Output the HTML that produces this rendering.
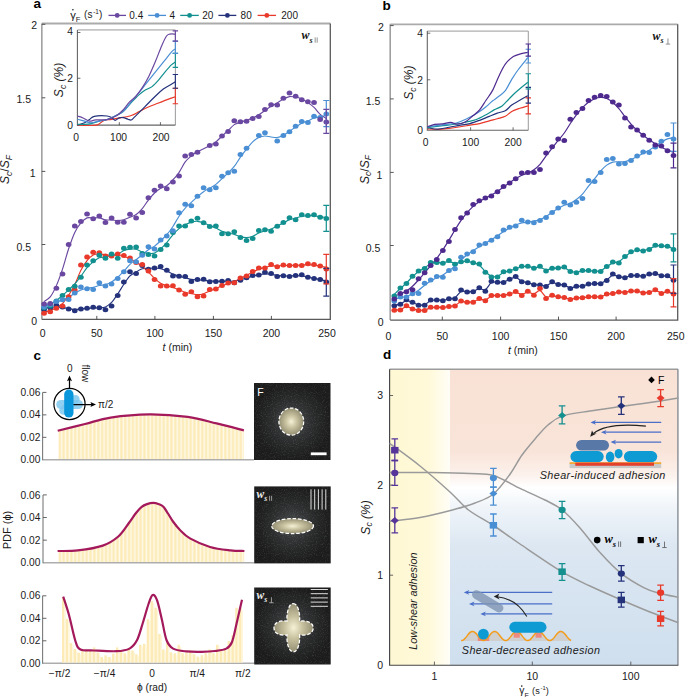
<!DOCTYPE html>
<html><head><meta charset="utf-8"><style>
html,body{margin:0;padding:0;background:#fff;}
#root{position:relative;width:685px;height:697px;overflow:hidden;background:#fff;}
svg{position:absolute;left:0;top:0;}
</style></head><body><div id="root">
<svg width="685" height="697" viewBox="0 0 685 697" font-family="Liberation Sans, sans-serif">
<defs><pattern id="stripes" patternUnits="userSpaceOnUse" width="3.85" height="10" x="58.4"><rect width="3.85" height="10" fill="#fff9e8"/><rect x="0.3" width="2.2" height="10" fill="#fcebb6"/></pattern><clipPath id="clip1"><path d="M57.7 430.7C62.25 429.58 76.18 426.18 85 424C93.82 421.82 99.9 419.2 110.6 417.6C121.3 416 136.35 414.52 149.2 414.4C162.05 414.28 176.47 415.4 187.7 416.9C198.93 418.4 207.23 421.15 216.6 423.4C225.97 425.65 239.35 429.23 243.9 430.4L243.9 459.1H57.7Z"/></clipPath><clipPath id="clip2"><path d="M57.6 551C60.98 550.9 70.37 551.3 77.9 550.4C85.43 549.5 96.07 547.92 102.8 545.6C109.53 543.28 113.95 540.27 118.3 536.5C122.65 532.73 125.95 526.92 128.9 523C131.85 519.08 133.87 515.7 136 513C138.13 510.3 139.87 508.28 141.7 506.8C143.53 505.32 145.12 504.75 147 504.1C148.88 503.45 151 502.88 153 502.9C155 502.92 157.27 503.55 159 504.2C160.73 504.85 161.9 505.25 163.4 506.8C164.9 508.35 166.4 511.05 168 513.5C169.6 515.95 171 518.75 173 521.5C175 524.25 177.17 527.18 180 530C182.83 532.82 185 535.57 190 538.4C195 541.23 203.28 545 210 547C216.72 549 224.57 549.73 230.3 550.4C236.03 551.07 242.05 550.9 244.4 551L244.4 562.1H57.6Z"/></clipPath><radialGradient id="halo"><stop offset="0" stop-color="#4c4f50"/><stop offset="0.35" stop-color="#343637"/><stop offset="0.7" stop-color="#252626"/><stop offset="1" stop-color="#1c1c1c"/></radialGradient><radialGradient id="blob"><stop offset="0" stop-color="#f6f1d6"/><stop offset="0.45" stop-color="#c8c2a0"/><stop offset="1" stop-color="#958f74"/></radialGradient><filter id="noise" x="0" y="0" width="100%" height="100%"><feTurbulence type="fractalNoise" baseFrequency="0.9" numOctaves="2" seed="3"/><feColorMatrix values="0 0 0 0 1  0 0 0 0 1  0 0 0 0 1  0 0 0 0.9 -0.45"/><feComposite in2="SourceGraphic" operator="in"/></filter><linearGradient id="yel" x1="0" x2="1" y1="0" y2="0"><stop offset="0" stop-color="#fef8d4"/><stop offset="0.65" stop-color="#fff9d9"/><stop offset="1" stop-color="#fffef7"/></linearGradient><linearGradient id="sb" x1="0" x2="0" y1="0" y2="1"><stop offset="0" stop-color="#f9e2d5"/><stop offset="0.28" stop-color="#f9e4d9"/><stop offset="0.36" stop-color="#fcf2ed"/><stop offset="0.4" stop-color="#ffffff"/><stop offset="0.47" stop-color="#eff4f9"/><stop offset="0.6" stop-color="#dce7f2"/><stop offset="1" stop-color="#cfdfee"/></linearGradient></defs>
<path d="M41.85 23.5H330.3" fill="none" stroke="#ababab" stroke-width="1.8"/>
<path d="M41.85 23.5V319.4" fill="none" stroke="#9a9a9a" stroke-width="1.5"/>
<path d="M330.3 23.5V319.4H41.85" fill="none" stroke="#5a5a5a" stroke-width="1.3"/>
<path d="M41.85 24.3h3.5" stroke="#444" stroke-width="0.9"/>
<path d="M41.85 97.8h3.5" stroke="#444" stroke-width="0.9"/>
<path d="M41.85 171.4h3.5" stroke="#444" stroke-width="0.9"/>
<path d="M41.85 244.5h3.5" stroke="#444" stroke-width="0.9"/>
<path d="M96.8 319.4v-3.5" stroke="#444" stroke-width="0.9"/>
<path d="M154.9 319.4v-3.5" stroke="#444" stroke-width="0.9"/>
<path d="M213.4 319.4v-3.5" stroke="#444" stroke-width="0.9"/>
<path d="M271.4 319.4v-3.5" stroke="#444" stroke-width="0.9"/>
<path d="M44.1 308.37C45.12 308.22 48.19 307.73 50.23 307.48C52.28 307.23 54.33 306.88 56.37 306.88C58.42 306.88 60.46 307.23 62.51 307.5C64.55 307.77 66.59 308.22 68.64 308.53C70.69 308.84 72.73 309.31 74.78 309.38C76.82 309.45 78.86 309.14 80.91 308.98C82.95 308.82 85 308.56 87.05 308.4C89.09 308.24 91.14 308.07 93.18 307.99C95.23 307.91 97.27 308.1 99.31 307.92C101.36 307.74 103.4 307.84 105.45 306.92C107.49 306 109.54 304.56 111.59 302.4C113.63 300.24 115.67 296.98 117.72 293.95C119.77 290.92 121.81 287.23 123.85 284.22C125.9 281.21 127.95 277.95 129.99 275.91C132.04 273.87 134.08 273.19 136.12 272C138.17 270.81 140.21 269.36 142.26 268.77C144.31 268.18 146.35 268.58 148.4 268.45C150.44 268.31 152.49 267.9 154.53 267.96C156.57 268.02 158.62 268.3 160.66 268.81C162.71 269.32 164.75 270.16 166.8 271.03C168.84 271.9 170.89 273.16 172.94 274.02C174.98 274.88 177.03 275.59 179.07 276.21C181.11 276.83 183.16 277.23 185.2 277.76C187.25 278.29 189.3 279.05 191.34 279.4C193.38 279.75 195.43 279.69 197.47 279.84C199.52 279.99 201.56 280.11 203.61 280.3C205.65 280.49 207.7 280.81 209.74 280.96C211.79 281.11 213.83 281.12 215.88 281.18C217.93 281.24 219.97 281.33 222.01 281.33C224.06 281.32 226.1 281.18 228.15 281.15C230.19 281.12 232.24 281.35 234.28 281.12C236.33 280.89 238.38 280.29 240.42 279.77C242.46 279.25 244.51 278.65 246.55 278.02C248.6 277.39 250.64 276.54 252.69 275.99C254.74 275.44 256.78 275.07 258.82 274.71C260.87 274.35 262.91 273.92 264.96 273.84C267 273.77 269.05 274 271.1 274.26C273.14 274.51 275.19 275.11 277.23 275.37C279.28 275.63 281.32 275.7 283.37 275.81C285.41 275.92 287.45 276.01 289.5 276C291.55 275.99 293.59 275.74 295.63 275.73C297.68 275.72 299.73 275.73 301.77 275.94C303.82 276.15 305.86 276.61 307.91 277.02C309.95 277.43 312 277.98 314.04 278.41C316.09 278.84 318.13 279.21 320.18 279.62C322.22 280.03 325.29 280.65 326.31 280.86" fill="none" stroke="#24327c" stroke-width="1.15"/>
<path d="M44.1 312.07C45.12 311.83 48.19 311.34 50.23 310.63C52.28 309.93 54.33 309.01 56.37 307.83C58.42 306.65 60.46 305.64 62.51 303.53C64.55 301.42 66.59 298.34 68.64 295.19C70.69 292.04 72.73 288.79 74.78 284.64C76.82 280.49 78.86 274.32 80.91 270.31C82.95 266.3 85 263.12 87.05 260.56C89.09 258 91.14 256.04 93.18 254.95C95.23 253.86 97.27 254.08 99.31 254.04C101.36 254 103.4 254.53 105.45 254.72C107.49 254.91 109.54 255.08 111.59 255.17C113.63 255.26 115.67 255.06 117.72 255.27C119.77 255.48 121.81 255.88 123.85 256.45C125.9 257.01 127.95 257.71 129.99 258.66C132.04 259.61 134.08 260.91 136.12 262.17C138.17 263.43 140.21 264.59 142.26 266.24C144.31 267.89 146.35 270.06 148.4 272.07C150.44 274.08 152.49 276.45 154.53 278.31C156.57 280.17 158.62 282.01 160.66 283.25C162.71 284.49 164.75 285.05 166.8 285.76C168.84 286.48 170.89 286.87 172.94 287.54C174.98 288.21 177.03 288.99 179.07 289.79C181.11 290.59 183.16 291.7 185.2 292.32C187.25 292.94 189.3 293.15 191.34 293.53C193.38 293.92 195.43 294.59 197.47 294.63C199.52 294.67 201.56 294.35 203.61 293.75C205.65 293.15 207.7 291.88 209.74 291.01C211.79 290.13 213.83 289.37 215.88 288.5C217.93 287.63 219.97 286.61 222.01 285.77C224.06 284.93 226.1 284.22 228.15 283.49C230.19 282.76 232.24 282.25 234.28 281.4C236.33 280.55 238.38 279.38 240.42 278.38C242.46 277.38 244.51 276.43 246.55 275.37C248.6 274.31 250.64 273.04 252.69 272C254.74 270.96 256.78 269.89 258.82 269.14C260.87 268.39 262.91 268.03 264.96 267.51C267 266.99 269.05 266.28 271.1 266.02C273.14 265.76 275.19 266.04 277.23 265.94C279.28 265.84 281.32 265.51 283.37 265.44C285.41 265.37 287.45 265.54 289.5 265.52C291.55 265.5 293.59 265.39 295.63 265.32C297.68 265.25 299.73 265.21 301.77 265.1C303.82 264.99 305.86 264.66 307.91 264.67C309.95 264.68 312 264.93 314.04 265.15C316.09 265.37 318.13 265.62 320.18 266C322.22 266.38 325.29 267.17 326.31 267.4" fill="none" stroke="#e8392a" stroke-width="1.15"/>
<path d="M44.1 306.23C45.12 305.87 48.19 305.03 50.23 304.06C52.28 303.08 54.33 301.82 56.37 300.39C58.42 298.96 60.46 297.24 62.51 295.5C64.55 293.76 66.59 291.87 68.64 289.94C70.69 288 72.73 286.19 74.78 283.89C76.82 281.59 78.86 278.84 80.91 276.15C82.95 273.46 85 270.11 87.05 267.73C89.09 265.35 91.14 263.53 93.18 261.87C95.23 260.21 97.27 258.58 99.31 257.78C101.36 256.98 103.4 257.48 105.45 257.06C107.49 256.64 109.54 255.72 111.59 255.27C113.63 254.82 115.67 255.13 117.72 254.34C119.77 253.55 121.81 251.41 123.85 250.54C125.9 249.68 127.95 249.37 129.99 249.15C132.04 248.93 134.08 248.75 136.12 249.22C138.17 249.69 140.21 251.3 142.26 251.98C144.31 252.66 146.35 253.14 148.4 253.31C150.44 253.48 152.49 253.77 154.53 253C156.57 252.23 158.62 250.42 160.66 248.69C162.71 246.96 164.75 244.92 166.8 242.6C168.84 240.28 170.89 237.08 172.94 234.76C174.98 232.44 177.03 230.32 179.07 228.66C181.11 227.01 183.16 225.92 185.2 224.83C187.25 223.74 189.3 222.7 191.34 222.11C193.38 221.53 195.43 221.21 197.47 221.32C199.52 221.43 201.56 222.07 203.61 222.77C205.65 223.48 207.7 224.67 209.74 225.55C211.79 226.44 213.83 227.13 215.88 228.08C217.93 229.03 219.97 230.47 222.01 231.28C224.06 232.09 226.1 232.44 228.15 232.95C230.19 233.46 232.24 233.74 234.28 234.35C236.33 234.96 238.38 236.08 240.42 236.62C242.46 237.16 244.51 237.64 246.55 237.58C248.6 237.52 250.64 237.04 252.69 236.28C254.74 235.52 256.78 233.94 258.82 233.02C260.87 232.1 262.91 231.41 264.96 230.74C267 230.07 269.05 229.8 271.1 229.01C273.14 228.22 275.19 227 277.23 225.98C279.28 224.96 281.32 223.93 283.37 222.87C285.41 221.82 287.45 220.43 289.5 219.65C291.55 218.87 293.59 218.79 295.63 218.21C297.68 217.63 299.73 216.59 301.77 216.19C303.82 215.79 305.86 215.86 307.91 215.79C309.95 215.72 312 215.59 314.04 215.76C316.09 215.93 318.13 216.48 320.18 216.79C322.22 217.1 325.29 217.48 326.31 217.61" fill="none" stroke="#12908f" stroke-width="1.15"/>
<path d="M44.1 305.6C45.12 305.33 48.19 304.53 50.23 303.96C52.28 303.38 54.33 302.85 56.37 302.17C58.42 301.49 60.46 300.71 62.51 299.88C64.55 299.05 66.59 298.27 68.64 297.18C70.69 296.09 72.73 294.53 74.78 293.34C76.82 292.15 78.86 290.87 80.91 290.04C82.95 289.21 85 288.81 87.05 288.37C89.09 287.93 91.14 287.86 93.18 287.37C95.23 286.88 97.27 285.92 99.31 285.45C101.36 284.98 103.4 285.14 105.45 284.56C107.49 283.98 109.54 283.16 111.59 281.94C113.63 280.72 115.67 279.05 117.72 277.24C119.77 275.43 121.81 273.25 123.85 271.1C125.9 268.95 127.95 266.24 129.99 264.34C132.04 262.44 134.08 261.3 136.12 259.7C138.17 258.1 140.21 256.4 142.26 254.74C144.31 253.07 146.35 251.15 148.4 249.71C150.44 248.27 152.49 247.59 154.53 246.1C156.57 244.61 158.62 242.66 160.66 240.76C162.71 238.86 164.75 237.1 166.8 234.72C168.84 232.33 170.89 229.53 172.94 226.45C174.98 223.37 177.03 219.31 179.07 216.25C181.11 213.19 183.16 210.39 185.2 208.09C187.25 205.79 189.3 204.35 191.34 202.43C193.38 200.51 195.43 198.38 197.47 196.58C199.52 194.78 201.56 193.04 203.61 191.65C205.65 190.26 207.7 189.45 209.74 188.24C211.79 187.02 213.83 185.95 215.88 184.36C217.93 182.77 219.97 180.62 222.01 178.7C224.06 176.78 226.1 174.9 228.15 172.86C230.19 170.82 232.24 169.07 234.28 166.45C236.33 163.83 238.38 160.03 240.42 157.14C242.46 154.25 244.51 151.66 246.55 149.12C248.6 146.58 250.64 143.82 252.69 141.89C254.74 139.97 256.78 138.56 258.82 137.57C260.87 136.58 262.91 136.07 264.96 135.98C267 135.89 269.05 136.78 271.1 137.04C273.14 137.3 275.19 137.86 277.23 137.55C279.28 137.24 281.32 136.23 283.37 135.19C285.41 134.15 287.45 132.7 289.5 131.33C291.55 129.96 293.59 128.33 295.63 126.97C297.68 125.61 299.73 124.16 301.77 123.15C303.82 122.14 305.86 121.75 307.91 120.9C309.95 120.05 312 118.69 314.04 118.04C316.09 117.39 318.13 117.44 320.18 116.98C322.22 116.52 325.29 115.56 326.31 115.27" fill="none" stroke="#4a8fd4" stroke-width="1.15"/>
<path d="M44.1 301.57C45.12 300.8 48.19 299.6 50.23 296.94C52.28 294.29 54.33 290.27 56.37 285.62C58.42 280.97 60.46 275.2 62.51 269.06C64.55 262.92 66.59 254.86 68.64 248.75C70.69 242.64 72.73 236.69 74.78 232.39C76.82 228.09 78.86 225.35 80.91 222.93C82.95 220.51 85 218.7 87.05 217.87C89.09 217.04 91.14 217.93 93.18 217.93C95.23 217.93 97.27 217.55 99.31 217.87C101.36 218.19 103.4 219.53 105.45 219.87C107.49 220.21 109.54 219.81 111.59 219.93C113.63 220.05 115.67 220.64 117.72 220.61C119.77 220.59 121.81 220.35 123.85 219.78C125.9 219.21 127.95 218.09 129.99 217.21C132.04 216.33 134.08 215.94 136.12 214.5C138.17 213.06 140.21 210.97 142.26 208.56C144.31 206.15 146.35 202.64 148.4 200.05C150.44 197.46 152.49 194.97 154.53 193C156.57 191.03 158.62 189.41 160.66 188.2C162.71 186.99 164.75 187.12 166.8 185.75C168.84 184.38 170.89 182.2 172.94 179.96C174.98 177.72 177.03 175.33 179.07 172.32C181.11 169.31 183.16 164.65 185.2 161.9C187.25 159.16 189.3 157.56 191.34 155.85C193.38 154.14 195.43 152.79 197.47 151.62C199.52 150.44 201.56 149.81 203.61 148.8C205.65 147.79 207.7 146.7 209.74 145.55C211.79 144.4 213.83 143.47 215.88 141.89C217.93 140.31 219.97 137.97 222.01 136.07C224.06 134.16 226.1 132.37 228.15 130.46C230.19 128.56 232.24 126.03 234.28 124.64C236.33 123.25 238.38 122.83 240.42 122.1C242.46 121.37 244.51 120.95 246.55 120.27C248.6 119.59 250.64 118.96 252.69 118.04C254.74 117.12 256.78 116.04 258.82 114.77C260.87 113.5 262.91 111.83 264.96 110.42C267 109.01 269.05 107.57 271.1 106.31C273.14 105.05 275.19 104.09 277.23 102.87C279.28 101.65 281.32 100.06 283.37 99.01C285.41 97.96 287.45 96.89 289.5 96.56C291.55 96.23 293.59 96.65 295.63 97.06C297.68 97.47 299.73 98.11 301.77 99.05C303.82 99.99 305.86 101.32 307.91 102.71C309.95 104.1 312 105.47 314.04 107.41C316.09 109.35 318.13 112.48 320.18 114.34C322.22 116.2 325.29 117.87 326.31 118.57" fill="none" stroke="#6a47a0" stroke-width="1.15"/>
<g fill="#24327c"><ellipse cx="44.1" cy="309.5" rx="2.85" ry="2.5"/><ellipse cx="50.23" cy="307.7" rx="2.85" ry="2.5"/><ellipse cx="56.37" cy="305.2" rx="2.85" ry="2.5"/><ellipse cx="62.51" cy="307.1" rx="2.85" ry="2.5"/><ellipse cx="68.64" cy="308.9" rx="2.85" ry="2.5"/><ellipse cx="74.78" cy="310.7" rx="2.85" ry="2.5"/><ellipse cx="80.91" cy="308.9" rx="2.85" ry="2.5"/><ellipse cx="87.05" cy="308.3" rx="2.85" ry="2.5"/><ellipse cx="93.18" cy="307.3" rx="2.85" ry="2.5"/><ellipse cx="99.31" cy="307.7" rx="2.85" ry="2.5"/><ellipse cx="105.45" cy="309.8" rx="2.85" ry="2.5"/><ellipse cx="111.59" cy="305.9" rx="2.85" ry="2.5"/><ellipse cx="117.72" cy="295.5" rx="2.85" ry="2.5"/><ellipse cx="123.85" cy="282.1" rx="2.85" ry="2.5"/><ellipse cx="129.99" cy="271.7" rx="2.85" ry="2.5"/><ellipse cx="136.12" cy="273.5" rx="2.85" ry="2.5"/><ellipse cx="142.26" cy="265.6" rx="2.85" ry="2.5"/><ellipse cx="148.4" cy="269.3" rx="2.85" ry="2.5"/><ellipse cx="154.53" cy="268" rx="2.85" ry="2.5"/><ellipse cx="160.66" cy="266.6" rx="2.85" ry="2.5"/><ellipse cx="166.8" cy="270.2" rx="2.85" ry="2.5"/><ellipse cx="172.94" cy="276" rx="2.85" ry="2.5"/><ellipse cx="179.07" cy="276.3" rx="2.85" ry="2.5"/><ellipse cx="185.2" cy="276.6" rx="2.85" ry="2.5"/><ellipse cx="191.34" cy="281.5" rx="2.85" ry="2.5"/><ellipse cx="197.47" cy="279.6" rx="2.85" ry="2.5"/><ellipse cx="203.61" cy="279.3" rx="2.85" ry="2.5"/><ellipse cx="209.74" cy="281.8" rx="2.85" ry="2.5"/><ellipse cx="215.88" cy="281.5" rx="2.85" ry="2.5"/><ellipse cx="222.01" cy="281.2" rx="2.85" ry="2.5"/><ellipse cx="228.15" cy="280.5" rx="2.85" ry="2.5"/><ellipse cx="234.28" cy="282.7" rx="2.85" ry="2.5"/><ellipse cx="240.42" cy="280.2" rx="2.85" ry="2.5"/><ellipse cx="246.55" cy="277.8" rx="2.85" ry="2.5"/><ellipse cx="252.69" cy="275.4" rx="2.85" ry="2.5"/><ellipse cx="258.82" cy="275.1" rx="2.85" ry="2.5"/><ellipse cx="264.96" cy="272.3" rx="2.85" ry="2.5"/><ellipse cx="271.1" cy="273.5" rx="2.85" ry="2.5"/><ellipse cx="277.23" cy="276.6" rx="2.85" ry="2.5"/><ellipse cx="283.37" cy="275.7" rx="2.85" ry="2.5"/><ellipse cx="289.5" cy="276.6" rx="2.85" ry="2.5"/><ellipse cx="295.63" cy="275.4" rx="2.85" ry="2.5"/><ellipse cx="301.77" cy="274.8" rx="2.85" ry="2.5"/><ellipse cx="307.91" cy="277.2" rx="2.85" ry="2.5"/><ellipse cx="314.04" cy="278.4" rx="2.85" ry="2.5"/><ellipse cx="320.18" cy="279.6" rx="2.85" ry="2.5"/><ellipse cx="326.31" cy="282.1" rx="2.85" ry="2.5"/></g>
<g fill="#e8392a"><ellipse cx="44.1" cy="313.2" rx="2.85" ry="2.5"/><ellipse cx="50.23" cy="311.7" rx="2.85" ry="2.5"/><ellipse cx="56.37" cy="308.3" rx="2.85" ry="2.5"/><ellipse cx="62.51" cy="305.9" rx="2.85" ry="2.5"/><ellipse cx="68.64" cy="296.7" rx="2.85" ry="2.5"/><ellipse cx="74.78" cy="290" rx="2.85" ry="2.5"/><ellipse cx="80.91" cy="265" rx="2.85" ry="2.5"/><ellipse cx="87.05" cy="257.1" rx="2.85" ry="2.5"/><ellipse cx="93.18" cy="252.2" rx="2.85" ry="2.5"/><ellipse cx="99.31" cy="252.8" rx="2.85" ry="2.5"/><ellipse cx="105.45" cy="255.9" rx="2.85" ry="2.5"/><ellipse cx="111.59" cy="255.9" rx="2.85" ry="2.5"/><ellipse cx="117.72" cy="254" rx="2.85" ry="2.5"/><ellipse cx="123.85" cy="255.5" rx="2.85" ry="2.5"/><ellipse cx="129.99" cy="258" rx="2.85" ry="2.5"/><ellipse cx="136.12" cy="262.6" rx="2.85" ry="2.5"/><ellipse cx="142.26" cy="264.4" rx="2.85" ry="2.5"/><ellipse cx="148.4" cy="271" rx="2.85" ry="2.5"/><ellipse cx="154.53" cy="279.6" rx="2.85" ry="2.5"/><ellipse cx="160.66" cy="286.1" rx="2.85" ry="2.5"/><ellipse cx="166.8" cy="286.1" rx="2.85" ry="2.5"/><ellipse cx="172.94" cy="285.7" rx="2.85" ry="2.5"/><ellipse cx="179.07" cy="290" rx="2.85" ry="2.5"/><ellipse cx="185.2" cy="294.3" rx="2.85" ry="2.5"/><ellipse cx="191.34" cy="291.8" rx="2.85" ry="2.5"/><ellipse cx="197.47" cy="296.7" rx="2.85" ry="2.5"/><ellipse cx="203.61" cy="296.1" rx="2.85" ry="2.5"/><ellipse cx="209.74" cy="289.4" rx="2.85" ry="2.5"/><ellipse cx="215.88" cy="289.1" rx="2.85" ry="2.5"/><ellipse cx="222.01" cy="285.4" rx="2.85" ry="2.5"/><ellipse cx="228.15" cy="282.9" rx="2.85" ry="2.5"/><ellipse cx="234.28" cy="282.7" rx="2.85" ry="2.5"/><ellipse cx="240.42" cy="278" rx="2.85" ry="2.5"/><ellipse cx="246.55" cy="276" rx="2.85" ry="2.5"/><ellipse cx="252.69" cy="271.5" rx="2.85" ry="2.5"/><ellipse cx="258.82" cy="268" rx="2.85" ry="2.5"/><ellipse cx="264.96" cy="268" rx="2.85" ry="2.5"/><ellipse cx="271.1" cy="264.4" rx="2.85" ry="2.5"/><ellipse cx="277.23" cy="266.8" rx="2.85" ry="2.5"/><ellipse cx="283.37" cy="265" rx="2.85" ry="2.5"/><ellipse cx="289.5" cy="265.4" rx="2.85" ry="2.5"/><ellipse cx="295.63" cy="265.6" rx="2.85" ry="2.5"/><ellipse cx="301.77" cy="265.6" rx="2.85" ry="2.5"/><ellipse cx="307.91" cy="263.8" rx="2.85" ry="2.5"/><ellipse cx="314.04" cy="264.4" rx="2.85" ry="2.5"/><ellipse cx="320.18" cy="265.9" rx="2.85" ry="2.5"/><ellipse cx="326.31" cy="268.9" rx="2.85" ry="2.5"/></g>
<g fill="#12908f"><ellipse cx="44.1" cy="307.7" rx="2.85" ry="2.5"/><ellipse cx="50.23" cy="305.9" rx="2.85" ry="2.5"/><ellipse cx="56.37" cy="301" rx="2.85" ry="2.5"/><ellipse cx="62.51" cy="295.5" rx="2.85" ry="2.5"/><ellipse cx="68.64" cy="289.4" rx="2.85" ry="2.5"/><ellipse cx="74.78" cy="286.3" rx="2.85" ry="2.5"/><ellipse cx="80.91" cy="277.2" rx="2.85" ry="2.5"/><ellipse cx="87.05" cy="265" rx="2.85" ry="2.5"/><ellipse cx="93.18" cy="260.7" rx="2.85" ry="2.5"/><ellipse cx="99.31" cy="255.2" rx="2.85" ry="2.5"/><ellipse cx="105.45" cy="258.3" rx="2.85" ry="2.5"/><ellipse cx="111.59" cy="254" rx="2.85" ry="2.5"/><ellipse cx="117.72" cy="258.3" rx="2.85" ry="2.5"/><ellipse cx="123.85" cy="248.3" rx="2.85" ry="2.5"/><ellipse cx="129.99" cy="247.3" rx="2.85" ry="2.5"/><ellipse cx="136.12" cy="247" rx="2.85" ry="2.5"/><ellipse cx="142.26" cy="253.4" rx="2.85" ry="2.5"/><ellipse cx="148.4" cy="254.5" rx="2.85" ry="2.5"/><ellipse cx="154.53" cy="255.9" rx="2.85" ry="2.5"/><ellipse cx="160.66" cy="249.5" rx="2.85" ry="2.5"/><ellipse cx="166.8" cy="245" rx="2.85" ry="2.5"/><ellipse cx="172.94" cy="232.6" rx="2.85" ry="2.5"/><ellipse cx="179.07" cy="225.9" rx="2.85" ry="2.5"/><ellipse cx="185.2" cy="225.9" rx="2.85" ry="2.5"/><ellipse cx="191.34" cy="221" rx="2.85" ry="2.5"/><ellipse cx="197.47" cy="218.3" rx="2.85" ry="2.5"/><ellipse cx="203.61" cy="222.8" rx="2.85" ry="2.5"/><ellipse cx="209.74" cy="226.5" rx="2.85" ry="2.5"/><ellipse cx="215.88" cy="225.9" rx="2.85" ry="2.5"/><ellipse cx="222.01" cy="233.8" rx="2.85" ry="2.5"/><ellipse cx="228.15" cy="233.8" rx="2.85" ry="2.5"/><ellipse cx="234.28" cy="231.7" rx="2.85" ry="2.5"/><ellipse cx="240.42" cy="237.4" rx="2.85" ry="2.5"/><ellipse cx="246.55" cy="240.5" rx="2.85" ry="2.5"/><ellipse cx="252.69" cy="238.4" rx="2.85" ry="2.5"/><ellipse cx="258.82" cy="230.5" rx="2.85" ry="2.5"/><ellipse cx="264.96" cy="229.8" rx="2.85" ry="2.5"/><ellipse cx="271.1" cy="231.3" rx="2.85" ry="2.5"/><ellipse cx="277.23" cy="226.2" rx="2.85" ry="2.5"/><ellipse cx="283.37" cy="222.4" rx="2.85" ry="2.5"/><ellipse cx="289.5" cy="217.8" rx="2.85" ry="2.5"/><ellipse cx="295.63" cy="219.8" rx="2.85" ry="2.5"/><ellipse cx="301.77" cy="214.7" rx="2.85" ry="2.5"/><ellipse cx="307.91" cy="215.5" rx="2.85" ry="2.5"/><ellipse cx="314.04" cy="214.7" rx="2.85" ry="2.5"/><ellipse cx="320.18" cy="217.3" rx="2.85" ry="2.5"/><ellipse cx="326.31" cy="218.5" rx="2.85" ry="2.5"/></g>
<g fill="#4a8fd4"><ellipse cx="44.1" cy="307.1" rx="2.85" ry="2.5"/><ellipse cx="50.23" cy="304.6" rx="2.85" ry="2.5"/><ellipse cx="56.37" cy="301.6" rx="2.85" ry="2.5"/><ellipse cx="62.51" cy="299.8" rx="2.85" ry="2.5"/><ellipse cx="68.64" cy="299.4" rx="2.85" ry="2.5"/><ellipse cx="74.78" cy="293" rx="2.85" ry="2.5"/><ellipse cx="80.91" cy="287" rx="2.85" ry="2.5"/><ellipse cx="87.05" cy="288.8" rx="2.85" ry="2.5"/><ellipse cx="93.18" cy="289.4" rx="2.85" ry="2.5"/><ellipse cx="99.31" cy="282.7" rx="2.85" ry="2.5"/><ellipse cx="105.45" cy="286.1" rx="2.85" ry="2.5"/><ellipse cx="111.59" cy="283.9" rx="2.85" ry="2.5"/><ellipse cx="117.72" cy="278.6" rx="2.85" ry="2.5"/><ellipse cx="123.85" cy="271.7" rx="2.85" ry="2.5"/><ellipse cx="129.99" cy="260.7" rx="2.85" ry="2.5"/><ellipse cx="136.12" cy="261.7" rx="2.85" ry="2.5"/><ellipse cx="142.26" cy="255.2" rx="2.85" ry="2.5"/><ellipse cx="148.4" cy="246.7" rx="2.85" ry="2.5"/><ellipse cx="154.53" cy="249.1" rx="2.85" ry="2.5"/><ellipse cx="160.66" cy="240" rx="2.85" ry="2.5"/><ellipse cx="166.8" cy="236" rx="2.85" ry="2.5"/><ellipse cx="172.94" cy="230.7" rx="2.85" ry="2.5"/><ellipse cx="179.07" cy="212.7" rx="2.85" ry="2.5"/><ellipse cx="185.2" cy="204.3" rx="2.85" ry="2.5"/><ellipse cx="191.34" cy="205.7" rx="2.85" ry="2.5"/><ellipse cx="197.47" cy="196.2" rx="2.85" ry="2.5"/><ellipse cx="203.61" cy="187.8" rx="2.85" ry="2.5"/><ellipse cx="209.74" cy="189.7" rx="2.85" ry="2.5"/><ellipse cx="215.88" cy="187.8" rx="2.85" ry="2.5"/><ellipse cx="222.01" cy="176.2" rx="2.85" ry="2.5"/><ellipse cx="228.15" cy="172.8" rx="2.85" ry="2.5"/><ellipse cx="234.28" cy="171.3" rx="2.85" ry="2.5"/><ellipse cx="240.42" cy="154.6" rx="2.85" ry="2.5"/><ellipse cx="246.55" cy="148.3" rx="2.85" ry="2.5"/><ellipse cx="258.82" cy="135.5" rx="2.85" ry="2.5"/><ellipse cx="264.96" cy="132.7" rx="2.85" ry="2.5"/><ellipse cx="277.23" cy="141" rx="2.85" ry="2.5"/><ellipse cx="283.37" cy="135.5" rx="2.85" ry="2.5"/><ellipse cx="289.5" cy="131.8" rx="2.85" ry="2.5"/><ellipse cx="295.63" cy="126.3" rx="2.85" ry="2.5"/><ellipse cx="301.77" cy="121.5" rx="2.85" ry="2.5"/><ellipse cx="307.91" cy="122.4" rx="2.85" ry="2.5"/><ellipse cx="314.04" cy="116.3" rx="2.85" ry="2.5"/><ellipse cx="320.18" cy="117.5" rx="2.85" ry="2.5"/><ellipse cx="326.31" cy="113.9" rx="2.85" ry="2.5"/></g>
<g fill="#6a47a0"><ellipse cx="44.1" cy="303.9" rx="2.85" ry="2.5"/><ellipse cx="50.23" cy="303.6" rx="2.85" ry="2.5"/><ellipse cx="56.37" cy="288.2" rx="2.85" ry="2.5"/><ellipse cx="62.51" cy="273.9" rx="2.85" ry="2.5"/><ellipse cx="68.64" cy="244.5" rx="2.85" ry="2.5"/><ellipse cx="74.78" cy="226" rx="2.85" ry="2.5"/><ellipse cx="80.91" cy="221.5" rx="2.85" ry="2.5"/><ellipse cx="87.05" cy="214" rx="2.85" ry="2.5"/><ellipse cx="93.18" cy="218.8" rx="2.85" ry="2.5"/><ellipse cx="99.31" cy="216.1" rx="2.85" ry="2.5"/><ellipse cx="105.45" cy="222.4" rx="2.85" ry="2.5"/><ellipse cx="111.59" cy="217.9" rx="2.85" ry="2.5"/><ellipse cx="117.72" cy="222.3" rx="2.85" ry="2.5"/><ellipse cx="123.85" cy="222.2" rx="2.85" ry="2.5"/><ellipse cx="129.99" cy="214.3" rx="2.85" ry="2.5"/><ellipse cx="136.12" cy="217.9" rx="2.85" ry="2.5"/><ellipse cx="142.26" cy="212.4" rx="2.85" ry="2.5"/><ellipse cx="148.4" cy="197.8" rx="2.85" ry="2.5"/><ellipse cx="154.53" cy="190.3" rx="2.85" ry="2.5"/><ellipse cx="160.66" cy="186" rx="2.85" ry="2.5"/><ellipse cx="166.8" cy="188.8" rx="2.85" ry="2.5"/><ellipse cx="172.94" cy="182" rx="2.85" ry="2.5"/><ellipse cx="179.07" cy="176" rx="2.85" ry="2.5"/><ellipse cx="185.2" cy="156" rx="2.85" ry="2.5"/><ellipse cx="191.34" cy="154.4" rx="2.85" ry="2.5"/><ellipse cx="197.47" cy="152.2" rx="2.85" ry="2.5"/><ellipse cx="209.74" cy="145.6" rx="2.85" ry="2.5"/><ellipse cx="215.88" cy="144" rx="2.85" ry="2.5"/><ellipse cx="222.01" cy="135.9" rx="2.85" ry="2.5"/><ellipse cx="228.15" cy="131.4" rx="2.85" ry="2.5"/><ellipse cx="234.28" cy="120.7" rx="2.85" ry="2.5"/><ellipse cx="240.42" cy="121.8" rx="2.85" ry="2.5"/><ellipse cx="246.55" cy="121.3" rx="2.85" ry="2.5"/><ellipse cx="252.69" cy="118.4" rx="2.85" ry="2.5"/><ellipse cx="258.82" cy="116.4" rx="2.85" ry="2.5"/><ellipse cx="264.96" cy="109.6" rx="2.85" ry="2.5"/><ellipse cx="271.1" cy="104.8" rx="2.85" ry="2.5"/><ellipse cx="277.23" cy="105" rx="2.85" ry="2.5"/><ellipse cx="283.37" cy="98.3" rx="2.85" ry="2.5"/><ellipse cx="289.5" cy="92.9" rx="2.85" ry="2.5"/><ellipse cx="295.63" cy="96.3" rx="2.85" ry="2.5"/><ellipse cx="301.77" cy="99.8" rx="2.85" ry="2.5"/><ellipse cx="307.91" cy="101.7" rx="2.85" ry="2.5"/><ellipse cx="314.04" cy="102.4" rx="2.85" ry="2.5"/><ellipse cx="320.18" cy="119.6" rx="2.85" ry="2.5"/><ellipse cx="326.31" cy="122.1" rx="2.85" ry="2.5"/></g>
<path d="M326.3 268.3V296.1M323.3 268.3H329.3M323.3 296.1H329.3" stroke="#24327c" stroke-width="1.2" fill="none"/>
<path d="M326.3 254.4V283.9M323.3 254.4H329.3M323.3 283.9H329.3" stroke="#e8392a" stroke-width="1.2" fill="none"/>
<path d="M326.3 205.3V231.3M323.3 205.3H329.3M323.3 231.3H329.3" stroke="#12908f" stroke-width="1.2" fill="none"/>
<path d="M326.3 100.5V126.7M323.3 100.5H329.3M323.3 126.7H329.3" stroke="#4a8fd4" stroke-width="1.2" fill="none"/>
<path d="M326.3 109.3V133.3M323.3 109.3H329.3M323.3 133.3H329.3" stroke="#6a47a0" stroke-width="1.2" fill="none"/>
<path d="M390.2 24.3H677.7" fill="none" stroke="#ababab" stroke-width="1.8"/>
<path d="M390.2 24.3V320.1" fill="none" stroke="#9a9a9a" stroke-width="1.5"/>
<path d="M677.7 24.3V320.1H390.2" fill="none" stroke="#5a5a5a" stroke-width="1.3"/>
<path d="M390.2 25.6h3.5" stroke="#444" stroke-width="0.9"/>
<path d="M390.2 98.9h3.5" stroke="#444" stroke-width="0.9"/>
<path d="M390.2 172.4h3.5" stroke="#444" stroke-width="0.9"/>
<path d="M390.2 245.5h3.5" stroke="#444" stroke-width="0.9"/>
<path d="M442.3 320.1v-3.5" stroke="#444" stroke-width="0.9"/>
<path d="M500.6 320.1v-3.5" stroke="#444" stroke-width="0.9"/>
<path d="M558.5 320.1v-3.5" stroke="#444" stroke-width="0.9"/>
<path d="M616.1 320.1v-3.5" stroke="#444" stroke-width="0.9"/>
<path d="M394.3 305.5C395.31 305.23 398.35 304.72 400.37 303.9C402.39 303.08 404.42 300.86 406.44 300.6C408.46 300.34 410.49 301.63 412.51 302.35C414.53 303.07 416.56 304.54 418.58 304.93C420.6 305.31 422.63 305.35 424.65 304.64C426.67 303.93 428.7 301.42 430.72 300.65C432.74 299.88 434.77 300.06 436.79 300.01C438.81 299.96 440.84 300.52 442.86 300.36C444.88 300.2 446.91 299.48 448.93 299.04C450.95 298.6 452.98 298.98 455 297.71C457.02 296.45 459.05 292.42 461.07 291.44C463.09 290.45 465.12 291.83 467.14 291.81C469.16 291.79 471.19 291.85 473.21 291.32C475.23 290.8 477.26 288.95 479.28 288.66C481.3 288.37 483.33 290.6 485.35 289.59C487.37 288.58 489.4 283.83 491.42 282.6C493.44 281.37 495.47 282.28 497.49 282.2C499.51 282.12 501.54 282.62 503.56 282.14C505.58 281.65 507.61 280.06 509.63 279.27C511.65 278.49 513.68 277.1 515.7 277.43C517.72 277.75 519.75 280.34 521.77 281.24C523.79 282.14 525.82 282.3 527.84 282.84C529.86 283.38 531.89 284.1 533.91 284.47C535.93 284.85 537.96 284.87 539.98 285.09C542 285.31 544.03 286.18 546.05 285.79C548.07 285.39 550.1 283 552.12 282.73C554.14 282.45 556.17 283.71 558.19 284.14C560.21 284.56 562.24 284.68 564.26 285.27C566.28 285.87 568.31 287.49 570.33 287.69C572.35 287.89 574.38 286.77 576.4 286.47C578.42 286.18 580.45 286.3 582.47 285.92C584.49 285.55 586.52 284.6 588.54 284.23C590.56 283.85 592.59 283.82 594.61 283.66C596.63 283.51 598.66 283.88 600.68 283.29C602.7 282.69 604.73 281.44 606.75 280.09C608.77 278.73 610.8 275.75 612.82 275.16C614.84 274.58 616.87 276.21 618.89 276.56C620.91 276.92 622.94 277.45 624.96 277.3C626.98 277.15 629.01 275.99 631.03 275.69C633.05 275.39 635.08 275.48 637.1 275.51C639.12 275.55 641.15 276.11 643.17 275.9C645.19 275.69 647.22 274.57 649.24 274.24C651.26 273.91 653.29 273.71 655.31 273.93C657.33 274.14 659.36 275.12 661.38 275.53C663.4 275.93 665.43 275.68 667.45 276.35C669.47 277.02 672.51 279.03 673.52 279.57" fill="none" stroke="#24327c" stroke-width="1.2"/>
<path d="M394.3 310.17C395.31 310.06 398.35 310.08 400.37 309.49C402.39 308.9 404.42 306.77 406.44 306.64C408.46 306.51 410.49 308.09 412.51 308.7C414.53 309.31 416.56 310.07 418.58 310.29C420.6 310.51 422.63 310.46 424.65 310.02C426.67 309.59 428.7 308.14 430.72 307.69C432.74 307.24 434.77 307.38 436.79 307.34C438.81 307.29 440.84 307.55 442.86 307.41C444.88 307.27 446.91 306.83 448.93 306.5C450.95 306.17 452.98 306.21 455 305.41C457.02 304.61 459.05 302.26 461.07 301.7C463.09 301.14 465.12 302.03 467.14 302.04C469.16 302.05 471.19 302.2 473.21 301.75C475.23 301.3 477.26 299.64 479.28 299.33C481.3 299.01 483.33 300.39 485.35 299.85C487.37 299.31 489.4 296.82 491.42 296.07C493.44 295.33 495.47 295.54 497.49 295.4C499.51 295.26 501.54 295.48 503.56 295.22C505.58 294.97 507.61 294.35 509.63 293.88C511.65 293.4 513.68 292.29 515.7 292.38C517.72 292.46 519.75 294.42 521.77 294.4C523.79 294.38 525.82 292.31 527.84 292.22C529.86 292.14 531.89 294.14 533.91 293.87C535.93 293.61 537.96 290.17 539.98 290.66C542 291.16 544.03 295.99 546.05 296.85C548.07 297.71 550.1 295.84 552.12 295.81C554.14 295.79 556.17 296.38 558.19 296.69C560.21 296.99 562.24 297.26 564.26 297.65C566.28 298.04 568.31 298.9 570.33 299C572.35 299.1 574.38 298.44 576.4 298.23C578.42 298.01 580.45 297.93 582.47 297.71C584.49 297.49 586.52 297.07 588.54 296.91C590.56 296.75 592.59 296.8 594.61 296.76C596.63 296.72 598.66 297.07 600.68 296.68C602.7 296.28 604.73 294.95 606.75 294.39C608.77 293.83 610.8 293.67 612.82 293.31C614.84 292.95 616.87 292.41 618.89 292.23C620.91 292.04 622.94 292.35 624.96 292.17C626.98 292 629.01 291.33 631.03 291.18C633.05 291.02 635.08 291 637.1 291.25C639.12 291.5 641.15 292.53 643.17 292.68C645.19 292.82 647.22 292.5 649.24 292.14C651.26 291.77 653.29 290.41 655.31 290.5C657.33 290.59 659.36 292.44 661.38 292.68C663.4 292.91 665.43 291.74 667.45 291.91C669.47 292.08 672.51 293.4 673.52 293.7" fill="none" stroke="#e8392a" stroke-width="1.2"/>
<path d="M394.3 294.3C395.31 293.34 398.35 290.38 400.37 288.52C402.39 286.65 404.42 285.08 406.44 283.1C408.46 281.12 410.49 278.58 412.51 276.65C414.53 274.72 416.56 272.98 418.58 271.52C420.6 270.06 422.63 269.21 424.65 267.88C426.67 266.56 428.7 264.43 430.72 263.57C432.74 262.7 434.77 262.85 436.79 262.7C438.81 262.55 440.84 262.84 442.86 262.65C444.88 262.46 446.91 261.48 448.93 261.57C450.95 261.66 452.98 263.11 455 263.18C457.02 263.26 459.05 262.35 461.07 262.03C463.09 261.72 465.12 261.19 467.14 261.28C469.16 261.38 471.19 261.96 473.21 262.6C475.23 263.24 477.26 263.64 479.28 265.15C481.3 266.66 483.33 269.79 485.35 271.65C487.37 273.51 489.4 275.53 491.42 276.28C493.44 277.04 495.47 276.83 497.49 276.2C499.51 275.57 501.54 273.4 503.56 272.5C505.58 271.6 507.61 271.44 509.63 270.82C511.65 270.19 513.68 269.45 515.7 268.77C517.72 268.08 519.75 267.07 521.77 266.72C523.79 266.36 525.82 266.48 527.84 266.62C529.86 266.76 531.89 267.44 533.91 267.57C535.93 267.69 537.96 267.03 539.98 267.38C542 267.74 544.03 269.48 546.05 269.68C548.07 269.89 550.1 268.92 552.12 268.6C554.14 268.28 556.17 267.91 558.19 267.78C560.21 267.66 562.24 267.31 564.26 267.83C566.28 268.36 568.31 270.22 570.33 270.95C572.35 271.68 574.38 272.21 576.4 272.2C578.42 272.19 580.45 271.14 582.47 270.88C584.49 270.62 586.52 270.58 588.54 270.63C590.56 270.69 592.59 271.2 594.61 271.22C596.63 271.23 598.66 271.48 600.68 270.72C602.7 269.96 604.73 267.96 606.75 266.65C608.77 265.34 610.8 263.68 612.82 262.85C614.84 262.02 616.87 262.67 618.89 261.65C620.91 260.63 622.94 258.29 624.96 256.72C626.98 255.14 629.01 253.29 631.03 252.22C633.05 251.14 635.08 250.56 637.1 250.28C639.12 250.01 641.15 250.8 643.17 250.58C645.19 250.37 647.22 249.75 649.24 249C651.26 248.25 653.29 246.6 655.31 246.07C657.33 245.53 659.36 245.68 661.38 245.78C663.4 245.88 665.43 246.17 667.45 246.67C669.47 247.16 672.51 248.41 673.52 248.76" fill="none" stroke="#12908f" stroke-width="1.2"/>
<path d="M394.3 299.05C395.31 298.82 398.35 298.1 400.37 297.65C402.39 297.2 404.42 297.05 406.44 296.38C408.46 295.71 410.49 294.66 412.51 293.62C414.53 292.58 416.56 291.55 418.58 290.14C420.6 288.74 422.63 286.69 424.65 285.19C426.67 283.68 428.7 282.39 430.72 281.11C432.74 279.84 434.77 278.56 436.79 277.53C438.81 276.51 440.84 276.08 442.86 274.97C444.88 273.85 446.91 272.36 448.93 270.84C450.95 269.33 452.98 267.72 455 265.9C457.02 264.08 459.05 261.78 461.07 259.93C463.09 258.09 465.12 256.41 467.14 254.83C469.16 253.25 471.19 251.81 473.21 250.44C475.23 249.08 477.26 247.85 479.28 246.67C481.3 245.48 483.33 244.51 485.35 243.33C487.37 242.16 489.4 240.89 491.42 239.63C493.44 238.37 495.47 237.1 497.49 235.77C499.51 234.43 501.54 232.93 503.56 231.61C505.58 230.3 507.61 228.98 509.63 227.88C511.65 226.78 513.68 225.82 515.7 225C517.72 224.18 519.75 223.46 521.77 222.97C523.79 222.47 525.82 222.34 527.84 222.04C529.86 221.75 531.89 221.62 533.91 221.21C535.93 220.8 537.96 220.37 539.98 219.6C542 218.83 544.03 217.79 546.05 216.59C548.07 215.39 550.1 213.74 552.12 212.39C554.14 211.04 556.17 209.65 558.19 208.47C560.21 207.28 562.24 206.14 564.26 205.29C566.28 204.44 568.31 204.32 570.33 203.37C572.35 202.41 574.38 201.12 576.4 199.58C578.42 198.04 580.45 196.35 582.47 194.12C584.49 191.9 586.52 188.79 588.54 186.22C590.56 183.65 592.59 181.26 594.61 178.71C596.63 176.16 598.66 173.21 600.68 170.94C602.7 168.68 604.73 166.59 606.75 165.11C608.77 163.63 610.8 162.63 612.82 162.08C614.84 161.53 616.87 161.88 618.89 161.8C620.91 161.72 622.94 161.95 624.96 161.58C626.98 161.21 629.01 160.43 631.03 159.59C633.05 158.75 635.08 157.56 637.1 156.52C639.12 155.48 641.15 154.38 643.17 153.34C645.19 152.31 647.22 151.5 649.24 150.29C651.26 149.08 653.29 147.48 655.31 146.1C657.33 144.72 659.36 143.22 661.38 142.01C663.4 140.8 665.43 139.53 667.45 138.83C669.47 138.12 672.51 137.97 673.52 137.8" fill="none" stroke="#4a8fd4" stroke-width="1.2"/>
<path d="M394.3 295.98C395.31 295.65 398.35 294.79 400.37 293.98C402.39 293.16 404.42 292.36 406.44 291.08C408.46 289.8 410.49 288.17 412.51 286.3C414.53 284.43 416.56 282.1 418.58 279.87C420.6 277.64 422.63 275.29 424.65 272.91C426.67 270.53 428.7 268.04 430.72 265.6C432.74 263.16 434.77 260.93 436.79 258.29C438.81 255.65 440.84 252.81 442.86 249.78C444.88 246.75 446.91 243.41 448.93 240.11C450.95 236.81 452.98 233.26 455 229.99C457.02 226.71 459.05 223.34 461.07 220.46C463.09 217.57 465.12 215.02 467.14 212.68C469.16 210.33 471.19 208.18 473.21 206.38C475.23 204.58 477.26 203.22 479.28 201.87C481.3 200.51 483.33 199.38 485.35 198.23C487.37 197.08 489.4 196.13 491.42 194.97C493.44 193.8 495.47 192.55 497.49 191.23C499.51 189.91 501.54 188.48 503.56 187.06C505.58 185.63 507.61 184.11 509.63 182.7C511.65 181.29 513.68 179.85 515.7 178.61C517.72 177.37 519.75 176.2 521.77 175.27C523.79 174.33 525.82 173.92 527.84 173C529.86 172.08 531.89 171.18 533.91 169.72C535.93 168.27 537.96 166.59 539.98 164.28C542 161.97 544.03 158.53 546.05 155.86C548.07 153.18 550.1 150.8 552.12 148.22C554.14 145.65 556.17 142.94 558.19 140.4C560.21 137.86 562.24 135.83 564.26 133.01C566.28 130.19 568.31 126.49 570.33 123.48C572.35 120.46 574.38 117.56 576.4 114.91C578.42 112.26 580.45 109.68 582.47 107.59C584.49 105.49 586.52 103.81 588.54 102.34C590.56 100.87 592.59 99.59 594.61 98.77C596.63 97.94 598.66 97.44 600.68 97.4C602.7 97.36 604.73 97.69 606.75 98.54C608.77 99.39 610.8 100.8 612.82 102.5C614.84 104.2 616.87 106.36 618.89 108.72C620.91 111.08 622.94 114.09 624.96 116.66C626.98 119.22 629.01 121.83 631.03 124.1C633.05 126.37 635.08 128.39 637.1 130.26C639.12 132.12 641.15 133.74 643.17 135.31C645.19 136.88 647.22 138.26 649.24 139.66C651.26 141.05 653.29 142.41 655.31 143.67C657.33 144.92 659.36 146.14 661.38 147.2C663.4 148.26 665.43 149.14 667.45 150C669.47 150.86 672.51 151.96 673.52 152.35" fill="none" stroke="#4e2a8e" stroke-width="1.2"/>
<g fill="#24327c"><ellipse cx="394.3" cy="305.7" rx="2.85" ry="2.5"/><ellipse cx="400.37" cy="304.3" rx="2.85" ry="2.5"/><ellipse cx="406.44" cy="299.7" rx="2.85" ry="2.5"/><ellipse cx="412.51" cy="302.3" rx="2.85" ry="2.5"/><ellipse cx="418.58" cy="305.3" rx="2.85" ry="2.5"/><ellipse cx="424.65" cy="305.3" rx="2.85" ry="2.5"/><ellipse cx="430.72" cy="300" rx="2.85" ry="2.5"/><ellipse cx="436.79" cy="299.9" rx="2.85" ry="2.5"/><ellipse cx="442.86" cy="300.7" rx="2.85" ry="2.5"/><ellipse cx="448.93" cy="298.8" rx="2.85" ry="2.5"/><ellipse cx="455" cy="298.8" rx="2.85" ry="2.5"/><ellipse cx="461.07" cy="290.1" rx="2.85" ry="2.5"/><ellipse cx="467.14" cy="292.1" rx="2.85" ry="2.5"/><ellipse cx="473.21" cy="291.8" rx="2.85" ry="2.5"/><ellipse cx="479.28" cy="287.7" rx="2.85" ry="2.5"/><ellipse cx="485.35" cy="291.3" rx="2.85" ry="2.5"/><ellipse cx="491.42" cy="281.2" rx="2.85" ry="2.5"/><ellipse cx="497.49" cy="282.3" rx="2.85" ry="2.5"/><ellipse cx="503.56" cy="282.6" rx="2.85" ry="2.5"/><ellipse cx="509.63" cy="279.2" rx="2.85" ry="2.5"/><ellipse cx="515.7" cy="276.4" rx="2.85" ry="2.5"/><ellipse cx="521.77" cy="281.8" rx="2.85" ry="2.5"/><ellipse cx="527.84" cy="282.7" rx="2.85" ry="2.5"/><ellipse cx="533.91" cy="284.7" rx="2.85" ry="2.5"/><ellipse cx="539.98" cy="284.9" rx="2.85" ry="2.5"/><ellipse cx="546.05" cy="286.6" rx="2.85" ry="2.5"/><ellipse cx="552.12" cy="281.8" rx="2.85" ry="2.5"/><ellipse cx="558.19" cy="284.4" rx="2.85" ry="2.5"/><ellipse cx="564.26" cy="284.9" rx="2.85" ry="2.5"/><ellipse cx="570.33" cy="288.4" rx="2.85" ry="2.5"/><ellipse cx="576.4" cy="286.2" rx="2.85" ry="2.5"/><ellipse cx="582.47" cy="286.2" rx="2.85" ry="2.5"/><ellipse cx="588.54" cy="284" rx="2.85" ry="2.5"/><ellipse cx="594.61" cy="283.6" rx="2.85" ry="2.5"/><ellipse cx="600.68" cy="283.7" rx="2.85" ry="2.5"/><ellipse cx="606.75" cy="280.5" rx="2.85" ry="2.5"/><ellipse cx="612.82" cy="274" rx="2.85" ry="2.5"/><ellipse cx="618.89" cy="276.8" rx="2.85" ry="2.5"/><ellipse cx="624.96" cy="277.7" rx="2.85" ry="2.5"/><ellipse cx="631.03" cy="275.4" rx="2.85" ry="2.5"/><ellipse cx="637.1" cy="275.4" rx="2.85" ry="2.5"/><ellipse cx="643.17" cy="276.3" rx="2.85" ry="2.5"/><ellipse cx="649.24" cy="274" rx="2.85" ry="2.5"/><ellipse cx="655.31" cy="273.6" rx="2.85" ry="2.5"/><ellipse cx="661.38" cy="275.8" rx="2.85" ry="2.5"/><ellipse cx="667.45" cy="275.8" rx="2.85" ry="2.5"/><ellipse cx="673.52" cy="280.2" rx="2.85" ry="2.5"/></g>
<g fill="#e8392a"><ellipse cx="394.3" cy="310.2" rx="2.85" ry="2.5"/><ellipse cx="400.37" cy="310" rx="2.85" ry="2.5"/><ellipse cx="406.44" cy="305.7" rx="2.85" ry="2.5"/><ellipse cx="412.51" cy="308.9" rx="2.85" ry="2.5"/><ellipse cx="418.58" cy="310.5" rx="2.85" ry="2.5"/><ellipse cx="424.65" cy="310.4" rx="2.85" ry="2.5"/><ellipse cx="430.72" cy="307.3" rx="2.85" ry="2.5"/><ellipse cx="436.79" cy="307.3" rx="2.85" ry="2.5"/><ellipse cx="442.86" cy="307.6" rx="2.85" ry="2.5"/><ellipse cx="448.93" cy="306.4" rx="2.85" ry="2.5"/><ellipse cx="455" cy="306" rx="2.85" ry="2.5"/><ellipse cx="461.07" cy="300.9" rx="2.85" ry="2.5"/><ellipse cx="467.14" cy="302.2" rx="2.85" ry="2.5"/><ellipse cx="473.21" cy="302.2" rx="2.85" ry="2.5"/><ellipse cx="479.28" cy="298.6" rx="2.85" ry="2.5"/><ellipse cx="485.35" cy="300.8" rx="2.85" ry="2.5"/><ellipse cx="491.42" cy="295.4" rx="2.85" ry="2.5"/><ellipse cx="497.49" cy="295.4" rx="2.85" ry="2.5"/><ellipse cx="503.56" cy="295.4" rx="2.85" ry="2.5"/><ellipse cx="509.63" cy="294" rx="2.85" ry="2.5"/><ellipse cx="515.7" cy="291.6" rx="2.85" ry="2.5"/><ellipse cx="521.77" cy="295.4" rx="2.85" ry="2.5"/><ellipse cx="527.84" cy="291.2" rx="2.85" ry="2.5"/><ellipse cx="533.91" cy="295.2" rx="2.85" ry="2.5"/><ellipse cx="539.98" cy="288.6" rx="2.85" ry="2.5"/><ellipse cx="546.05" cy="298.5" rx="2.85" ry="2.5"/><ellipse cx="552.12" cy="295.2" rx="2.85" ry="2.5"/><ellipse cx="558.19" cy="296.8" rx="2.85" ry="2.5"/><ellipse cx="564.26" cy="297.5" rx="2.85" ry="2.5"/><ellipse cx="570.33" cy="299.4" rx="2.85" ry="2.5"/><ellipse cx="576.4" cy="298.1" rx="2.85" ry="2.5"/><ellipse cx="582.47" cy="297.8" rx="2.85" ry="2.5"/><ellipse cx="588.54" cy="296.8" rx="2.85" ry="2.5"/><ellipse cx="594.61" cy="296.7" rx="2.85" ry="2.5"/><ellipse cx="600.68" cy="297.1" rx="2.85" ry="2.5"/><ellipse cx="606.75" cy="294.1" rx="2.85" ry="2.5"/><ellipse cx="612.82" cy="293.4" rx="2.85" ry="2.5"/><ellipse cx="618.89" cy="292" rx="2.85" ry="2.5"/><ellipse cx="624.96" cy="292.4" rx="2.85" ry="2.5"/><ellipse cx="631.03" cy="291" rx="2.85" ry="2.5"/><ellipse cx="637.1" cy="291" rx="2.85" ry="2.5"/><ellipse cx="643.17" cy="293" rx="2.85" ry="2.5"/><ellipse cx="649.24" cy="292.4" rx="2.85" ry="2.5"/><ellipse cx="655.31" cy="289.7" rx="2.85" ry="2.5"/><ellipse cx="661.38" cy="293.4" rx="2.85" ry="2.5"/><ellipse cx="667.45" cy="291.3" rx="2.85" ry="2.5"/><ellipse cx="673.52" cy="294.1" rx="2.85" ry="2.5"/></g>
<g fill="#12908f"><ellipse cx="394.3" cy="295.9" rx="2.85" ry="2.5"/><ellipse cx="400.37" cy="287.9" rx="2.85" ry="2.5"/><ellipse cx="406.44" cy="283.6" rx="2.85" ry="2.5"/><ellipse cx="412.51" cy="276.3" rx="2.85" ry="2.5"/><ellipse cx="418.58" cy="271.1" rx="2.85" ry="2.5"/><ellipse cx="424.65" cy="268.4" rx="2.85" ry="2.5"/><ellipse cx="430.72" cy="262.6" rx="2.85" ry="2.5"/><ellipse cx="436.79" cy="262.6" rx="2.85" ry="2.5"/><ellipse cx="442.86" cy="263.2" rx="2.85" ry="2.5"/><ellipse cx="448.93" cy="260.5" rx="2.85" ry="2.5"/><ellipse cx="455" cy="264.2" rx="2.85" ry="2.5"/><ellipse cx="461.07" cy="261.8" rx="2.85" ry="2.5"/><ellipse cx="467.14" cy="260.8" rx="2.85" ry="2.5"/><ellipse cx="473.21" cy="262.7" rx="2.85" ry="2.5"/><ellipse cx="479.28" cy="264" rx="2.85" ry="2.5"/><ellipse cx="485.35" cy="272.2" rx="2.85" ry="2.5"/><ellipse cx="491.42" cy="277.1" rx="2.85" ry="2.5"/><ellipse cx="497.49" cy="277.1" rx="2.85" ry="2.5"/><ellipse cx="503.56" cy="271.7" rx="2.85" ry="2.5"/><ellipse cx="509.63" cy="271.1" rx="2.85" ry="2.5"/><ellipse cx="515.7" cy="268.8" rx="2.85" ry="2.5"/><ellipse cx="521.77" cy="266.3" rx="2.85" ry="2.5"/><ellipse cx="527.84" cy="266.3" rx="2.85" ry="2.5"/><ellipse cx="533.91" cy="268.2" rx="2.85" ry="2.5"/><ellipse cx="539.98" cy="266.3" rx="2.85" ry="2.5"/><ellipse cx="546.05" cy="270.9" rx="2.85" ry="2.5"/><ellipse cx="552.12" cy="268.2" rx="2.85" ry="2.5"/><ellipse cx="558.19" cy="267.9" rx="2.85" ry="2.5"/><ellipse cx="564.26" cy="266.9" rx="2.85" ry="2.5"/><ellipse cx="570.33" cy="271.5" rx="2.85" ry="2.5"/><ellipse cx="576.4" cy="272.8" rx="2.85" ry="2.5"/><ellipse cx="582.47" cy="270.5" rx="2.85" ry="2.5"/><ellipse cx="588.54" cy="270.5" rx="2.85" ry="2.5"/><ellipse cx="594.61" cy="271.3" rx="2.85" ry="2.5"/><ellipse cx="600.68" cy="271.6" rx="2.85" ry="2.5"/><ellipse cx="606.75" cy="266.6" rx="2.85" ry="2.5"/><ellipse cx="612.82" cy="261.9" rx="2.85" ry="2.5"/><ellipse cx="618.89" cy="262.9" rx="2.85" ry="2.5"/><ellipse cx="624.96" cy="256.4" rx="2.85" ry="2.5"/><ellipse cx="631.03" cy="251.8" rx="2.85" ry="2.5"/><ellipse cx="637.1" cy="249.7" rx="2.85" ry="2.5"/><ellipse cx="643.17" cy="251.1" rx="2.85" ry="2.5"/><ellipse cx="649.24" cy="249.4" rx="2.85" ry="2.5"/><ellipse cx="655.31" cy="245.3" rx="2.85" ry="2.5"/><ellipse cx="661.38" cy="245.8" rx="2.85" ry="2.5"/><ellipse cx="667.45" cy="246.2" rx="2.85" ry="2.5"/><ellipse cx="673.52" cy="249.4" rx="2.85" ry="2.5"/></g>
<g fill="#4a8fd4"><ellipse cx="394.3" cy="301" rx="2.85" ry="2.5"/><ellipse cx="400.37" cy="297.1" rx="2.85" ry="2.5"/><ellipse cx="406.44" cy="297.1" rx="2.85" ry="2.5"/><ellipse cx="412.51" cy="293.7" rx="2.85" ry="2.5"/><ellipse cx="418.58" cy="293.5" rx="2.85" ry="2.5"/><ellipse cx="424.65" cy="283.2" rx="2.85" ry="2.5"/><ellipse cx="430.72" cy="279.9" rx="2.85" ry="2.5"/><ellipse cx="436.79" cy="276.6" rx="2.85" ry="2.5"/><ellipse cx="442.86" cy="277.2" rx="2.85" ry="2.5"/><ellipse cx="448.93" cy="270.6" rx="2.85" ry="2.5"/><ellipse cx="455" cy="268.8" rx="2.85" ry="2.5"/><ellipse cx="461.07" cy="257.2" rx="2.85" ry="2.5"/><ellipse cx="467.14" cy="253.9" rx="2.85" ry="2.5"/><ellipse cx="473.21" cy="251.8" rx="2.85" ry="2.5"/><ellipse cx="479.28" cy="245" rx="2.85" ry="2.5"/><ellipse cx="485.35" cy="243.6" rx="2.85" ry="2.5"/><ellipse cx="491.42" cy="240.3" rx="2.85" ry="2.5"/><ellipse cx="497.49" cy="236.8" rx="2.85" ry="2.5"/><ellipse cx="503.56" cy="230" rx="2.85" ry="2.5"/><ellipse cx="509.63" cy="227.3" rx="2.85" ry="2.5"/><ellipse cx="515.7" cy="226" rx="2.85" ry="2.5"/><ellipse cx="521.77" cy="220.2" rx="2.85" ry="2.5"/><ellipse cx="527.84" cy="222" rx="2.85" ry="2.5"/><ellipse cx="533.91" cy="222.8" rx="2.85" ry="2.5"/><ellipse cx="539.98" cy="220.4" rx="2.85" ry="2.5"/><ellipse cx="546.05" cy="217.5" rx="2.85" ry="2.5"/><ellipse cx="552.12" cy="212.6" rx="2.85" ry="2.5"/><ellipse cx="558.19" cy="208" rx="2.85" ry="2.5"/><ellipse cx="564.26" cy="202.3" rx="2.85" ry="2.5"/><ellipse cx="570.33" cy="204.9" rx="2.85" ry="2.5"/><ellipse cx="576.4" cy="202.3" rx="2.85" ry="2.5"/><ellipse cx="582.47" cy="198.4" rx="2.85" ry="2.5"/><ellipse cx="588.54" cy="180.4" rx="2.85" ry="2.5"/><ellipse cx="594.61" cy="181.6" rx="2.85" ry="2.5"/><ellipse cx="600.68" cy="172.5" rx="2.85" ry="2.5"/><ellipse cx="606.75" cy="159.4" rx="2.85" ry="2.5"/><ellipse cx="612.82" cy="158.6" rx="2.85" ry="2.5"/><ellipse cx="618.89" cy="164" rx="2.85" ry="2.5"/><ellipse cx="624.96" cy="163.6" rx="2.85" ry="2.5"/><ellipse cx="631.03" cy="160.4" rx="2.85" ry="2.5"/><ellipse cx="637.1" cy="156" rx="2.85" ry="2.5"/><ellipse cx="643.17" cy="151.9" rx="2.85" ry="2.5"/><ellipse cx="649.24" cy="152.5" rx="2.85" ry="2.5"/><ellipse cx="655.31" cy="147" rx="2.85" ry="2.5"/><ellipse cx="661.38" cy="141.3" rx="2.85" ry="2.5"/><ellipse cx="667.45" cy="134.4" rx="2.85" ry="2.5"/><ellipse cx="673.52" cy="138.9" rx="2.85" ry="2.5"/></g>
<g fill="#4e2a8e"><ellipse cx="394.3" cy="299.1" rx="2.85" ry="2.5"/><ellipse cx="400.37" cy="293.4" rx="2.85" ry="2.5"/><ellipse cx="406.44" cy="291.8" rx="2.85" ry="2.5"/><ellipse cx="412.51" cy="289.8" rx="2.85" ry="2.5"/><ellipse cx="418.58" cy="278.8" rx="2.85" ry="2.5"/><ellipse cx="424.65" cy="272.7" rx="2.85" ry="2.5"/><ellipse cx="430.72" cy="265.6" rx="2.85" ry="2.5"/><ellipse cx="436.79" cy="259.5" rx="2.85" ry="2.5"/><ellipse cx="442.86" cy="250.4" rx="2.85" ry="2.5"/><ellipse cx="448.93" cy="241.4" rx="2.85" ry="2.5"/><ellipse cx="455" cy="229.4" rx="2.85" ry="2.5"/><ellipse cx="461.07" cy="217.7" rx="2.85" ry="2.5"/><ellipse cx="467.14" cy="213.1" rx="2.85" ry="2.5"/><ellipse cx="473.21" cy="204.6" rx="2.85" ry="2.5"/><ellipse cx="479.28" cy="200.8" rx="2.85" ry="2.5"/><ellipse cx="485.35" cy="198.1" rx="2.85" ry="2.5"/><ellipse cx="491.42" cy="195.9" rx="2.85" ry="2.5"/><ellipse cx="497.49" cy="191.8" rx="2.85" ry="2.5"/><ellipse cx="503.56" cy="186.4" rx="2.85" ry="2.5"/><ellipse cx="509.63" cy="183" rx="2.85" ry="2.5"/><ellipse cx="515.7" cy="178.8" rx="2.85" ry="2.5"/><ellipse cx="521.77" cy="173.1" rx="2.85" ry="2.5"/><ellipse cx="527.84" cy="172.5" rx="2.85" ry="2.5"/><ellipse cx="533.91" cy="172.5" rx="2.85" ry="2.5"/><ellipse cx="539.98" cy="169.5" rx="2.85" ry="2.5"/><ellipse cx="546.05" cy="152.9" rx="2.85" ry="2.5"/><ellipse cx="552.12" cy="146.7" rx="2.85" ry="2.5"/><ellipse cx="558.19" cy="139.1" rx="2.85" ry="2.5"/><ellipse cx="564.26" cy="140.4" rx="2.85" ry="2.5"/><ellipse cx="570.33" cy="119.2" rx="2.85" ry="2.5"/><ellipse cx="576.4" cy="112.6" rx="2.85" ry="2.5"/><ellipse cx="582.47" cy="108.6" rx="2.85" ry="2.5"/><ellipse cx="588.54" cy="100.4" rx="2.85" ry="2.5"/><ellipse cx="594.61" cy="97.3" rx="2.85" ry="2.5"/><ellipse cx="600.68" cy="95.5" rx="2.85" ry="2.5"/><ellipse cx="606.75" cy="96.6" rx="2.85" ry="2.5"/><ellipse cx="612.82" cy="101.9" rx="2.85" ry="2.5"/><ellipse cx="618.89" cy="105" rx="2.85" ry="2.5"/><ellipse cx="624.96" cy="118.1" rx="2.85" ry="2.5"/><ellipse cx="631.03" cy="126.9" rx="2.85" ry="2.5"/><ellipse cx="637.1" cy="129.9" rx="2.85" ry="2.5"/><ellipse cx="643.17" cy="135.2" rx="2.85" ry="2.5"/><ellipse cx="649.24" cy="140.3" rx="2.85" ry="2.5"/><ellipse cx="655.31" cy="144.9" rx="2.85" ry="2.5"/><ellipse cx="661.38" cy="145.9" rx="2.85" ry="2.5"/><ellipse cx="667.45" cy="150.7" rx="2.85" ry="2.5"/><ellipse cx="673.52" cy="155.6" rx="2.85" ry="2.5"/></g>
<path d="M673.5 265V293.4M670.5 265H676.5M670.5 293.4H676.5" stroke="#24327c" stroke-width="1.2" fill="none"/>
<path d="M673.5 278.6V306.9M670.5 278.6H676.5M670.5 306.9H676.5" stroke="#e8392a" stroke-width="1.2" fill="none"/>
<path d="M673.5 233.9V261.9M670.5 233.9H676.5M670.5 261.9H676.5" stroke="#12908f" stroke-width="1.2" fill="none"/>
<path d="M673.5 123V151.4M670.5 123H676.5M670.5 151.4H676.5" stroke="#4a8fd4" stroke-width="1.2" fill="none"/>
<path d="M673.5 143.1V167.8M670.5 143.1H676.5M670.5 167.8H676.5" stroke="#4e2a8e" stroke-width="1.2" fill="none"/>
<text x="33.4" y="8.3" font-size="13.5" font-weight="bold" fill="#000">a</text>
<text x="382.6" y="9.6" font-size="13.5" font-weight="bold" fill="#000">b</text>
<text x="37.1" y="28.7" font-size="10.5" text-anchor="end" fill="#1a1a1a">2</text>
<text x="31" y="102.8" font-size="10.5" text-anchor="end" fill="#1a1a1a">1.5</text>
<text x="35.5" y="176.5" font-size="10.5" text-anchor="end" fill="#1a1a1a">1</text>
<text x="31" y="250.55" font-size="10.5" text-anchor="end" fill="#1a1a1a">0.5</text>
<text x="37.2" y="324.5" font-size="10.5" text-anchor="end" fill="#1a1a1a">0</text>
<text x="42.6" y="336.9" font-size="10.5" text-anchor="middle" fill="#1a1a1a">0</text>
<text x="96.8" y="336.9" font-size="10.5" text-anchor="middle" fill="#1a1a1a">50</text>
<text x="154.9" y="336.9" font-size="10.5" text-anchor="middle" fill="#1a1a1a">100</text>
<text x="213.4" y="336.9" font-size="10.5" text-anchor="middle" fill="#1a1a1a">150</text>
<text x="271.4" y="336.9" font-size="10.5" text-anchor="middle" fill="#1a1a1a">200</text>
<text x="327" y="336.9" font-size="10.5" text-anchor="middle" fill="#1a1a1a">250</text>
<text x="162.6" y="350.8" font-size="10.5" fill="#1a1a1a"><tspan font-style="italic">t</tspan> (min)</text>
<text x="383.8" y="31.4" font-size="10.5" text-anchor="end" fill="#1a1a1a">2</text>
<text x="380.4" y="105" font-size="10.5" text-anchor="end" fill="#1a1a1a">1.5</text>
<text x="382.3" y="179.1" font-size="10.5" text-anchor="end" fill="#1a1a1a">1</text>
<text x="380.4" y="252.1" font-size="10.5" text-anchor="end" fill="#1a1a1a">0.5</text>
<text x="383.6" y="326.4" font-size="10.5" text-anchor="end" fill="#1a1a1a">0</text>
<text x="388.5" y="340.2" font-size="10.5" text-anchor="middle" fill="#1a1a1a">0</text>
<text x="442.3" y="340.2" font-size="10.5" text-anchor="middle" fill="#1a1a1a">50</text>
<text x="500.6" y="340.2" font-size="10.5" text-anchor="middle" fill="#1a1a1a">100</text>
<text x="558.5" y="340.2" font-size="10.5" text-anchor="middle" fill="#1a1a1a">150</text>
<text x="616.1" y="340.2" font-size="10.5" text-anchor="middle" fill="#1a1a1a">200</text>
<text x="675.8" y="340.2" font-size="10.5" text-anchor="middle" fill="#1a1a1a">250</text>
<text x="508" y="354" font-size="10.5" fill="#1a1a1a"><tspan font-style="italic">t</tspan> (min)</text>
<text transform="translate(9.3 169.5) rotate(-90)" font-size="12" font-style="italic" text-anchor="middle" fill="#1a1a1a">S<tspan font-size="8.5" dy="2.5">c</tspan><tspan dy="-2.5" font-style="normal">/</tspan>S<tspan font-size="8.5" dy="2.5">F</tspan></text>
<text transform="translate(368.6 169.5) rotate(-90)" font-size="12" font-style="italic" text-anchor="middle" fill="#1a1a1a">S<tspan font-size="8.5" dy="2.5">c</tspan><tspan dy="-2.5" font-style="normal">/</tspan>S<tspan font-size="8.5" dy="2.5">F</tspan></text>
<text x="301.6" y="39.2" font-family="Liberation Serif, serif" font-size="12" font-weight="bold" font-style="italic" fill="#111">w</text>
<text x="309.52" y="42.68" font-family="Liberation Serif, serif" font-size="7.92" font-weight="bold" font-style="italic" fill="#111">s</text>
<path d="M315.16 37.4V42.68M317.16 37.4V42.68" stroke="#777" stroke-width="0.8"/>
<text x="652.6" y="40" font-family="Liberation Serif, serif" font-size="12" font-weight="bold" font-style="italic" fill="#111">w</text>
<text x="660.52" y="43.48" font-family="Liberation Serif, serif" font-size="7.92" font-weight="bold" font-style="italic" fill="#111">s</text>
<path d="M667.96 38.4V44.08M665.76 44.08H670.16" stroke="#777" stroke-width="0.8"/>
<text x="70.2" y="18.6" font-size="11.2" fill="#1a1a1a">&#947;</text>
<circle cx="72.9" cy="9.8" r="0.8" fill="#1a1a1a"/>
<text x="75.8" y="22.4" font-size="7.6" fill="#1a1a1a">F</text>
<text x="84.1" y="18.4" font-size="10" fill="#1a1a1a">(s</text>
<text x="93.2" y="14.4" font-size="6.4" fill="#1a1a1a">-1</text>
<text x="99" y="18.4" font-size="10" fill="#1a1a1a">)</text>
<path d="M108.5 15.4H126" stroke="#6a47a0" stroke-width="1.3"/><circle cx="117.2" cy="15.4" r="2.4" fill="#6a47a0"/>
<text x="129.3" y="19.2" font-size="10" fill="#1a1a1a">0.4</text>
<path d="M148.2 15.4H166" stroke="#4a8fd4" stroke-width="1.3"/><circle cx="157.1" cy="15.4" r="2.4" fill="#4a8fd4"/>
<text x="169.6" y="19.2" font-size="10" fill="#1a1a1a">4</text>
<path d="M180.2 15.4H198.8" stroke="#12908f" stroke-width="1.3"/><circle cx="189.6" cy="15.4" r="2.4" fill="#12908f"/>
<text x="202.3" y="19.2" font-size="10" fill="#1a1a1a">20</text>
<path d="M218.4 15.4H236.3" stroke="#24327c" stroke-width="1.3"/><circle cx="227.4" cy="15.4" r="2.4" fill="#24327c"/>
<text x="240.6" y="19.2" font-size="10" fill="#1a1a1a">80</text>
<path d="M257.6 15.4H276" stroke="#e8392a" stroke-width="1.3"/><circle cx="266.8" cy="15.4" r="2.4" fill="#e8392a"/>
<text x="281.3" y="19.2" font-size="10" fill="#1a1a1a">200</text>
<path d="M77.41 29.93H175.37V125.16" fill="none" stroke="#9a9a9a" stroke-width="1"/>
<path d="M77.41 29.93V125.16H175.37" fill="none" stroke="#666" stroke-width="1.1"/>
<path d="M77.41 32.5h3" stroke="#444" stroke-width="0.8"/>
<path d="M77.41 78.26h3" stroke="#444" stroke-width="0.8"/>
<path d="M119.32 125.16v-3" stroke="#444" stroke-width="0.8"/>
<path d="M160.43 125.16v-3" stroke="#444" stroke-width="0.8"/>
<path d="M77.41 125.16C79.15 125.21 84.5 125.53 87.85 125.48C91.19 125.43 94.81 125.69 97.48 124.84C100.16 123.98 101.77 121.22 103.91 120.34C106.05 119.46 107.65 119.94 110.33 119.54C113.01 119.14 116.49 118.6 119.97 117.93C123.44 117.26 128 116.59 131.21 115.52C134.42 114.45 136.56 112.85 139.24 111.51C141.91 110.17 144.59 108.7 147.27 107.49C149.94 106.29 152.62 105.35 155.3 104.28C157.97 103.21 160.65 102.09 163.33 101.07C166 100.05 169.35 98.9 171.35 98.18C173.36 97.46 174.7 96.97 175.37 96.73" fill="none" stroke="#e8392a" stroke-width="1.2"/>
<path d="M77.41 125.16C78.61 124.76 82.63 123.69 84.64 122.75C86.64 121.81 87.85 120.61 89.45 119.54C91.06 118.47 91.33 116.91 94.27 116.33C97.22 115.74 104.17 115.74 107.12 116C110.06 116.27 110.6 117.21 111.94 117.93C113.27 118.65 113.94 120.34 115.15 120.34C116.35 120.34 117.82 118.39 119.16 117.93C120.5 117.48 121.71 117.4 123.18 117.61C124.65 117.82 126.66 118.81 128 119.22C129.33 119.62 130.14 120.37 131.21 120.02C132.28 119.67 133.08 118.41 134.42 117.13C135.76 115.84 137.1 114.45 139.24 112.31C141.38 110.17 144.59 106.96 147.27 104.28C149.94 101.6 152.62 98.79 155.3 96.25C157.97 93.71 160.65 91.03 163.33 89.02C166 87.02 169.35 85.41 171.35 84.21C173.36 83 174.7 82.2 175.37 81.8" fill="none" stroke="#24327c" stroke-width="1.2"/>
<path d="M77.41 124.35C78.61 124.35 82.36 124.49 84.64 124.35C86.91 124.22 88.65 124.09 91.06 123.55C93.47 123.02 96.41 121.81 99.09 121.14C101.77 120.47 104.44 120.39 107.12 119.54C109.79 118.68 112.47 117.34 115.15 116C117.82 114.67 120.5 113.73 123.18 111.51C125.85 109.29 128.53 105.49 131.21 102.67C133.88 99.86 136.83 96.79 139.24 94.65C141.65 92.5 143.52 91.17 145.66 89.83C147.8 88.49 149.94 88.22 152.08 86.62C154.22 85.01 156.37 82.6 158.51 80.19C160.65 77.78 162.79 74.71 164.93 72.16C167.07 69.62 169.61 66.62 171.35 64.94C173.09 63.25 174.7 62.53 175.37 62.05" fill="none" stroke="#12908f" stroke-width="1.2"/>
<path d="M77.41 119.22C78.61 119.54 82.36 120.55 84.64 121.14C86.91 121.73 88.65 122.75 91.06 122.75C93.47 122.75 96.41 121.68 99.09 121.14C101.77 120.61 104.44 120.39 107.12 119.54C109.79 118.68 112.47 117.34 115.15 116C117.82 114.67 120.5 113.86 123.18 111.51C125.85 109.15 128.53 105.08 131.21 101.87C133.88 98.66 136.83 95.18 139.24 92.24C141.65 89.29 143.52 86.88 145.66 84.21C147.8 81.53 149.94 78.85 152.08 76.18C154.22 73.5 156.37 70.82 158.51 68.15C160.65 65.47 162.79 62.79 164.93 60.12C167.07 57.44 169.61 53.96 171.35 52.09C173.09 50.22 174.7 49.41 175.37 48.88" fill="none" stroke="#4a8fd4" stroke-width="1.2"/>
<path d="M77.41 116C78.35 116.33 81.02 117.07 83.03 117.93C85.04 118.79 87.31 120.82 89.45 121.14C91.59 121.46 92.93 120.13 95.88 119.86C98.82 119.59 103.64 120.26 107.12 119.54C110.6 118.81 114.08 117.13 116.75 115.52C119.43 113.92 121.04 112.18 123.18 109.9C125.32 107.63 127.46 104.15 129.6 101.87C131.74 99.6 133.88 98.66 136.02 96.25C138.17 93.84 140.31 90.76 142.45 87.42C144.59 84.07 146.73 80.46 148.87 76.18C151.01 71.89 153.15 66.81 155.3 61.72C157.44 56.64 159.85 49.95 161.72 45.67C163.59 41.38 165.2 37.96 166.54 36.03C167.88 34.1 168.28 34.42 169.75 34.1C171.22 33.78 174.43 34.1 175.37 34.1" fill="none" stroke="#6a47a0" stroke-width="1.2"/>
<path d="M175.37 88.22V103.8M172.67 88.22H178.07M172.67 103.8H178.07" stroke="#e8392a" stroke-width="1.1" fill="none"/>
<path d="M175.37 74.57V88.22M172.67 74.57H178.07M172.67 88.22H178.07" stroke="#24327c" stroke-width="1.1" fill="none"/>
<path d="M175.37 53.37V67.34M172.67 53.37H178.07M172.67 67.34H178.07" stroke="#12908f" stroke-width="1.1" fill="none"/>
<path d="M175.37 41.17V53.37M172.67 41.17H178.07M172.67 53.37H178.07" stroke="#4a8fd4" stroke-width="1.1" fill="none"/>
<path d="M175.37 30.89V41.17M172.67 30.89H178.07M172.67 41.17H178.07" stroke="#6a47a0" stroke-width="1.1" fill="none"/>
<text x="76" y="140.7" font-size="10.3" text-anchor="middle" fill="#1a1a1a">0</text>
<text x="118.5" y="140.7" font-size="10.3" text-anchor="middle" fill="#1a1a1a">100</text>
<text x="161" y="140.7" font-size="10.3" text-anchor="middle" fill="#1a1a1a">200</text>
<text x="73" y="35.4" font-size="10.3" text-anchor="end" fill="#1a1a1a">4</text>
<text x="73" y="82.2" font-size="10.3" text-anchor="end" fill="#1a1a1a">2</text>
<text x="73" y="129.3" font-size="10.3" text-anchor="end" fill="#1a1a1a">0</text>
<text transform="translate(63.2 80) rotate(-90)" font-size="12" font-style="italic" text-anchor="middle" fill="#1a1a1a">S<tspan font-size="8.5" dy="2.5">c</tspan><tspan dy="-2.5"> (%)</tspan></text>
<path d="M427.3 31.1H528.29V130.3" fill="none" stroke="#9a9a9a" stroke-width="1"/>
<path d="M427.3 31.1V130.3H528.29" fill="none" stroke="#666" stroke-width="1.1"/>
<path d="M427.3 33.2h3" stroke="#444" stroke-width="0.8"/>
<path d="M427.3 79.81h3" stroke="#444" stroke-width="0.8"/>
<path d="M470.61 130.3v-3" stroke="#444" stroke-width="0.8"/>
<path d="M513.1 130.3v-3" stroke="#444" stroke-width="0.8"/>
<path d="M427.41 128.85C429.15 128.96 434.23 129.57 437.85 129.49C441.46 129.41 445.34 128.82 449.09 128.37C452.84 127.91 456.85 127.3 460.33 126.76C463.81 126.23 466.75 125.69 469.97 125.16C473.18 124.62 476.39 124.27 479.6 123.55C482.81 122.83 486.29 121.62 489.24 120.82C492.18 120.02 494.59 119.48 497.27 118.73C499.94 117.98 502.89 117.53 505.3 116.33C507.7 115.12 509.31 112.85 511.72 111.51C514.13 110.17 517.07 109.23 519.75 108.3C522.43 107.36 526.44 106.29 527.78 105.89" fill="none" stroke="#e8392a" stroke-width="1.2"/>
<path d="M427.41 127.57C429.15 127.83 434.23 129.23 437.85 129.17C441.46 129.12 445.34 127.91 449.09 127.25C452.84 126.58 456.85 125.77 460.33 125.16C463.81 124.54 466.75 124.35 469.97 123.55C473.18 122.75 476.39 121.54 479.6 120.34C482.81 119.14 486.29 117.53 489.24 116.33C492.18 115.12 494.59 114.05 497.27 113.11C499.94 112.18 502.89 112.04 505.3 110.7C507.7 109.37 509.31 106.82 511.72 105.08C514.13 103.34 517.07 101.82 519.75 100.27C522.43 98.71 526.44 96.52 527.78 95.77" fill="none" stroke="#24327c" stroke-width="1.2"/>
<path d="M427.41 127.57C429.68 127.3 436.11 126.55 441.06 125.96C446.01 125.37 452.84 124.7 457.12 124.03C461.4 123.36 463.54 122.7 466.75 121.95C469.97 121.2 473.18 120.74 476.39 119.54C479.6 118.33 483.08 116.33 486.02 114.72C488.97 113.11 491.38 111.37 494.05 109.9C496.73 108.43 499.67 107.63 502.08 105.89C504.49 104.15 506.37 101.6 508.51 99.46C510.65 97.32 512.79 95.05 514.93 93.04C517.07 91.03 519.21 89.21 521.35 87.42C523.5 85.63 526.71 83.14 527.78 82.28" fill="none" stroke="#12908f" stroke-width="1.2"/>
<path d="M427.41 126.76C429.68 126.5 436.11 125.83 441.06 125.16C446.01 124.49 452.84 123.82 457.12 122.75C461.4 121.68 464.08 119.94 466.75 118.73C469.43 117.53 471.04 116.73 473.18 115.52C475.32 114.32 477.46 112.98 479.6 111.51C481.74 110.04 483.88 108.43 486.02 106.69C488.17 104.95 490.31 102.81 492.45 101.07C494.59 99.33 496.73 97.99 498.87 96.25C501.01 94.51 503.15 93.44 505.3 90.63C507.44 87.82 509.58 82.87 511.72 79.39C513.86 75.91 515.47 73.37 518.14 69.75C520.82 66.14 526.17 59.72 527.78 57.71" fill="none" stroke="#4a8fd4" stroke-width="1.2"/>
<path d="M427.41 126.76C428.61 126.36 432.09 124.84 434.64 124.35C437.18 123.87 439.99 124.19 442.67 123.87C445.34 123.55 448.29 122.4 450.69 122.43C453.1 122.45 454.71 124.11 457.12 124.03C459.53 123.95 462.47 123.36 465.15 121.95C467.82 120.53 470.77 117.53 473.18 115.52C475.59 113.51 477.46 112.44 479.6 109.9C481.74 107.36 483.88 103.48 486.02 100.27C488.17 97.05 490.31 94.65 492.45 90.63C494.59 86.62 496.73 80.59 498.87 76.18C501.01 71.76 502.89 67.4 505.3 64.13C507.7 60.87 510.65 58.32 513.33 56.59C516 54.85 518.95 54.39 521.35 53.69C523.76 53 526.71 52.62 527.78 52.41" fill="none" stroke="#4e2a8e" stroke-width="1.2"/>
<path d="M528.29 97.86V113.92M525.59 97.86H530.99M525.59 113.92H530.99" stroke="#e8392a" stroke-width="1.1" fill="none"/>
<path d="M528.29 87.42V103.16M525.59 87.42H530.99M525.59 103.16H530.99" stroke="#24327c" stroke-width="1.1" fill="none"/>
<path d="M528.29 73.77V89.02M525.59 73.77H530.99M525.59 89.02H530.99" stroke="#12908f" stroke-width="1.1" fill="none"/>
<path d="M528.29 49.2V63.01M525.59 49.2H530.99M525.59 63.01H530.99" stroke="#4a8fd4" stroke-width="1.1" fill="none"/>
<path d="M528.29 44.06V56.1M525.59 44.06H530.99M525.59 56.1H530.99" stroke="#4e2a8e" stroke-width="1.1" fill="none"/>
<text x="425.5" y="145.7" font-size="10.3" text-anchor="middle" fill="#1a1a1a">0</text>
<text x="470.6" y="145.7" font-size="10.3" text-anchor="middle" fill="#1a1a1a">100</text>
<text x="513.1" y="145.7" font-size="10.3" text-anchor="middle" fill="#1a1a1a">200</text>
<text x="423" y="36.9" font-size="10.3" text-anchor="end" fill="#1a1a1a">4</text>
<text x="423" y="83.5" font-size="10.3" text-anchor="end" fill="#1a1a1a">2</text>
<text x="423" y="134" font-size="10.3" text-anchor="end" fill="#1a1a1a">0</text>
<text transform="translate(413 82.7) rotate(-90)" font-size="12" font-style="italic" text-anchor="middle" fill="#1a1a1a">S<tspan font-size="8.5" dy="2.5">c</tspan><tspan dy="-2.5"> (%)</tspan></text>
<text x="33.6" y="359.6" font-size="13.5" font-weight="bold" fill="#000">c</text>
<path d="M42.6 459.8H254" fill="none" stroke="#adadad" stroke-width="1.5"/>
<path d="M42.6 392.4V460.3" fill="none" stroke="#7a7a7a" stroke-width="1.1"/>
<path d="M42.6 392.4h3.8" stroke="#555" stroke-width="0.9"/>
<text x="40.3" y="396" font-size="10.2" text-anchor="end" fill="#1a1a1a">0.06</text>
<path d="M42.6 414.87h3.8" stroke="#555" stroke-width="0.9"/>
<text x="40.3" y="418.47" font-size="10.2" text-anchor="end" fill="#1a1a1a">0.04</text>
<path d="M42.6 437.33h3.8" stroke="#555" stroke-width="0.9"/>
<text x="40.3" y="440.93" font-size="10.2" text-anchor="end" fill="#1a1a1a">0.02</text>
<text x="40.3" y="463.4" font-size="10.2" text-anchor="end" fill="#1a1a1a">0.00</text>
<rect x="58.4" y="379.1" width="185.5" height="80" fill="url(#stripes)" clip-path="url(#clip1)"/>
<path d="M57.7 430.7C62.25 429.58 76.18 426.18 85 424C93.82 421.82 99.9 419.2 110.6 417.6C121.3 416 136.35 414.52 149.2 414.4C162.05 414.28 176.47 415.4 187.7 416.9C198.93 418.4 207.23 421.15 216.6 423.4C225.97 425.65 239.35 429.23 243.9 430.4" fill="none" stroke="#a3195b" stroke-width="2.2"/>
<path d="M43 562.8H254.3" fill="none" stroke="#adadad" stroke-width="1.5"/>
<path d="M43 494.9V563.3" fill="none" stroke="#7a7a7a" stroke-width="1.1"/>
<path d="M43 494.9h3.8" stroke="#555" stroke-width="0.9"/>
<text x="40.3" y="498.5" font-size="10.2" text-anchor="end" fill="#1a1a1a">0.06</text>
<path d="M43 517.53h3.8" stroke="#555" stroke-width="0.9"/>
<text x="40.3" y="521.13" font-size="10.2" text-anchor="end" fill="#1a1a1a">0.04</text>
<path d="M43 540.17h3.8" stroke="#555" stroke-width="0.9"/>
<text x="40.3" y="543.77" font-size="10.2" text-anchor="end" fill="#1a1a1a">0.02</text>
<text x="40.3" y="566.4" font-size="10.2" text-anchor="end" fill="#1a1a1a">0.00</text>
<rect x="58.4" y="482.1" width="186" height="80" fill="url(#stripes)" clip-path="url(#clip2)"/>
<path d="M57.6 551C60.98 550.9 70.37 551.3 77.9 550.4C85.43 549.5 96.07 547.92 102.8 545.6C109.53 543.28 113.95 540.27 118.3 536.5C122.65 532.73 125.95 526.92 128.9 523C131.85 519.08 133.87 515.7 136 513C138.13 510.3 139.87 508.28 141.7 506.8C143.53 505.32 145.12 504.75 147 504.1C148.88 503.45 151 502.88 153 502.9C155 502.92 157.27 503.55 159 504.2C160.73 504.85 161.9 505.25 163.4 506.8C164.9 508.35 166.4 511.05 168 513.5C169.6 515.95 171 518.75 173 521.5C175 524.25 177.17 527.18 180 530C182.83 532.82 185 535.57 190 538.4C195 541.23 203.28 545 210 547C216.72 549 224.57 549.73 230.3 550.4C236.03 551.07 242.05 550.9 244.4 551" fill="none" stroke="#a3195b" stroke-width="2.2"/>
<path d="M42.6 663.3H254.3" fill="none" stroke="#adadad" stroke-width="1.5"/>
<path d="M42.6 595.8V663.8" fill="none" stroke="#7a7a7a" stroke-width="1.1"/>
<path d="M42.6 595.8h3.8" stroke="#555" stroke-width="0.9"/>
<text x="40.3" y="599.4" font-size="10.2" text-anchor="end" fill="#1a1a1a">0.06</text>
<path d="M42.6 618.3h3.8" stroke="#555" stroke-width="0.9"/>
<text x="40.3" y="621.9" font-size="10.2" text-anchor="end" fill="#1a1a1a">0.04</text>
<path d="M42.6 640.8h3.8" stroke="#555" stroke-width="0.9"/>
<text x="40.3" y="644.4" font-size="10.2" text-anchor="end" fill="#1a1a1a">0.02</text>
<text x="40.3" y="666.9" font-size="10.2" text-anchor="end" fill="#1a1a1a">0.00</text>
<rect x="62" y="597.5" width="2.5" height="65.1" fill="#fcebb6"/><rect x="64.5" y="599.5" width="1.35" height="63.1" fill="#fff6dc"/>
<rect x="65.85" y="618.9" width="2.5" height="43.7" fill="#fcebb6"/><rect x="68.35" y="620.9" width="1.35" height="41.7" fill="#fff6dc"/>
<rect x="69.7" y="643" width="2.5" height="19.6" fill="#fcebb6"/><rect x="72.2" y="645" width="1.35" height="17.6" fill="#fff6dc"/>
<rect x="73.55" y="649" width="2.5" height="13.6" fill="#fcebb6"/><rect x="76.05" y="651" width="1.35" height="11.6" fill="#fff6dc"/>
<rect x="77.4" y="652.7" width="2.5" height="9.9" fill="#fcebb6"/><rect x="79.9" y="654.7" width="1.35" height="7.9" fill="#fff6dc"/>
<rect x="81.25" y="651" width="2.5" height="11.6" fill="#fcebb6"/><rect x="83.75" y="653" width="1.35" height="9.6" fill="#fff6dc"/>
<rect x="85.1" y="651" width="2.5" height="11.6" fill="#fcebb6"/><rect x="87.6" y="653" width="1.35" height="9.6" fill="#fff6dc"/>
<rect x="88.95" y="650" width="2.5" height="12.6" fill="#fcebb6"/><rect x="91.45" y="652" width="1.35" height="10.6" fill="#fff6dc"/>
<rect x="92.8" y="647.4" width="2.5" height="15.2" fill="#fcebb6"/><rect x="95.3" y="649.4" width="1.35" height="13.2" fill="#fff6dc"/>
<rect x="96.65" y="652.7" width="2.5" height="9.9" fill="#fcebb6"/><rect x="99.15" y="654.7" width="1.35" height="7.9" fill="#fff6dc"/>
<rect x="100.5" y="657" width="2.5" height="5.6" fill="#fcebb6"/><rect x="103" y="659" width="1.35" height="3.6" fill="#fff6dc"/>
<rect x="104.35" y="655.3" width="2.5" height="7.3" fill="#fcebb6"/><rect x="106.85" y="657.3" width="1.35" height="5.3" fill="#fff6dc"/>
<rect x="108.2" y="657" width="2.5" height="5.6" fill="#fcebb6"/><rect x="110.7" y="659" width="1.35" height="3.6" fill="#fff6dc"/>
<rect x="112.05" y="653.6" width="2.5" height="9" fill="#fcebb6"/><rect x="114.55" y="655.6" width="1.35" height="7" fill="#fff6dc"/>
<rect x="115.9" y="647.4" width="2.5" height="15.2" fill="#fcebb6"/><rect x="118.4" y="649.4" width="1.35" height="13.2" fill="#fff6dc"/>
<rect x="119.75" y="651" width="2.5" height="11.6" fill="#fcebb6"/><rect x="122.25" y="653" width="1.35" height="9.6" fill="#fff6dc"/>
<rect x="123.6" y="653.3" width="2.5" height="9.3" fill="#fcebb6"/><rect x="126.1" y="655.3" width="1.35" height="7.3" fill="#fff6dc"/>
<rect x="127.45" y="649.5" width="2.5" height="13.1" fill="#fcebb6"/><rect x="129.95" y="651.5" width="1.35" height="11.1" fill="#fff6dc"/>
<rect x="131.3" y="650.5" width="2.5" height="12.1" fill="#fcebb6"/><rect x="133.8" y="652.5" width="1.35" height="10.1" fill="#fff6dc"/>
<rect x="135.15" y="654.3" width="2.5" height="8.3" fill="#fcebb6"/><rect x="137.65" y="656.3" width="1.35" height="6.3" fill="#fff6dc"/>
<rect x="139" y="644.8" width="2.5" height="17.8" fill="#fcebb6"/><rect x="141.5" y="646.8" width="1.35" height="15.8" fill="#fff6dc"/>
<rect x="142.85" y="643.8" width="2.5" height="18.8" fill="#fcebb6"/><rect x="145.35" y="645.8" width="1.35" height="16.8" fill="#fff6dc"/>
<rect x="146.7" y="619.2" width="2.5" height="43.4" fill="#fcebb6"/><rect x="149.2" y="621.2" width="1.35" height="41.4" fill="#fff6dc"/>
<rect x="150.55" y="601.1" width="2.5" height="61.5" fill="#fcebb6"/><rect x="153.05" y="603.1" width="1.35" height="59.5" fill="#fff6dc"/>
<rect x="154.4" y="607.8" width="2.5" height="54.8" fill="#fcebb6"/><rect x="156.9" y="609.8" width="1.35" height="52.8" fill="#fff6dc"/>
<rect x="158.25" y="634" width="2.5" height="28.6" fill="#fcebb6"/><rect x="160.75" y="636" width="1.35" height="26.6" fill="#fff6dc"/>
<rect x="162.1" y="649.5" width="2.5" height="13.1" fill="#fcebb6"/><rect x="164.6" y="651.5" width="1.35" height="11.1" fill="#fff6dc"/>
<rect x="165.95" y="642" width="2.5" height="20.6" fill="#fcebb6"/><rect x="168.45" y="644" width="1.35" height="18.6" fill="#fff6dc"/>
<rect x="169.8" y="652.4" width="2.5" height="10.2" fill="#fcebb6"/><rect x="172.3" y="654.4" width="1.35" height="8.2" fill="#fff6dc"/>
<rect x="173.65" y="653.3" width="2.5" height="9.3" fill="#fcebb6"/><rect x="176.15" y="655.3" width="1.35" height="7.3" fill="#fff6dc"/>
<rect x="177.5" y="644.8" width="2.5" height="17.8" fill="#fcebb6"/><rect x="180" y="646.8" width="1.35" height="15.8" fill="#fff6dc"/>
<rect x="181.35" y="653.3" width="2.5" height="9.3" fill="#fcebb6"/><rect x="183.85" y="655.3" width="1.35" height="7.3" fill="#fff6dc"/>
<rect x="185.2" y="652.4" width="2.5" height="10.2" fill="#fcebb6"/><rect x="187.7" y="654.4" width="1.35" height="8.2" fill="#fff6dc"/>
<rect x="189.05" y="650.5" width="2.5" height="12.1" fill="#fcebb6"/><rect x="191.55" y="652.5" width="1.35" height="10.1" fill="#fff6dc"/>
<rect x="192.9" y="654.3" width="2.5" height="8.3" fill="#fcebb6"/><rect x="195.4" y="656.3" width="1.35" height="6.3" fill="#fff6dc"/>
<rect x="196.75" y="656.7" width="2.5" height="5.9" fill="#fcebb6"/><rect x="199.25" y="658.7" width="1.35" height="3.9" fill="#fff6dc"/>
<rect x="200.6" y="655.2" width="2.5" height="7.4" fill="#fcebb6"/><rect x="203.1" y="657.2" width="1.35" height="5.4" fill="#fff6dc"/>
<rect x="204.45" y="653.3" width="2.5" height="9.3" fill="#fcebb6"/><rect x="206.95" y="655.3" width="1.35" height="7.3" fill="#fff6dc"/>
<rect x="208.3" y="649.5" width="2.5" height="13.1" fill="#fcebb6"/><rect x="210.8" y="651.5" width="1.35" height="11.1" fill="#fff6dc"/>
<rect x="212.15" y="653.3" width="2.5" height="9.3" fill="#fcebb6"/><rect x="214.65" y="655.3" width="1.35" height="7.3" fill="#fff6dc"/>
<rect x="216" y="644.8" width="2.5" height="17.8" fill="#fcebb6"/><rect x="218.5" y="646.8" width="1.35" height="15.8" fill="#fff6dc"/>
<rect x="219.85" y="650.5" width="2.5" height="12.1" fill="#fcebb6"/><rect x="222.35" y="652.5" width="1.35" height="10.1" fill="#fff6dc"/>
<rect x="223.7" y="649.5" width="2.5" height="13.1" fill="#fcebb6"/><rect x="226.2" y="651.5" width="1.35" height="11.1" fill="#fff6dc"/>
<rect x="227.55" y="641" width="2.5" height="21.6" fill="#fcebb6"/><rect x="230.05" y="643" width="1.35" height="19.6" fill="#fff6dc"/>
<rect x="231.4" y="635.3" width="2.5" height="27.3" fill="#fcebb6"/><rect x="233.9" y="637.3" width="1.35" height="25.3" fill="#fff6dc"/>
<rect x="235.25" y="607.8" width="2.5" height="54.8" fill="#fcebb6"/><rect x="237.75" y="609.8" width="1.35" height="52.8" fill="#fff6dc"/>
<rect x="239.1" y="608.2" width="2.5" height="54.4" fill="#fcebb6"/><rect x="241.6" y="610.2" width="1.35" height="52.4" fill="#fff6dc"/>
<path d="M63.2 596.6C64.17 599.67 66.97 607.6 69 615C71.03 622.4 73.48 635.25 75.4 641C77.32 646.75 77.43 647.92 80.5 649.5C83.57 651.08 87.78 650.22 93.8 650.5C99.82 650.78 110.65 651.52 116.6 651.2C122.55 650.88 126.08 650.47 129.5 648.6C132.92 646.73 134.88 644.27 137.1 640C139.32 635.73 140.9 629 142.8 623C144.7 617 146.87 608.68 148.5 604C150.13 599.32 151.18 595.53 152.6 594.9C154.02 594.27 155.47 596.15 157 600.2C158.53 604.25 160.22 612.57 161.8 619.2C163.38 625.83 164.62 635.1 166.5 640C168.38 644.9 169.78 646.7 173.1 648.6C176.42 650.5 181.65 650.87 186.4 651.4C191.15 651.93 196.85 651.87 201.6 651.8C206.35 651.73 210.78 651.53 214.9 651C219.02 650.47 223.45 650.1 226.3 648.6C229.15 647.1 230.27 646.27 232 642C233.73 637.73 235.03 630.03 236.7 623C238.37 615.97 241.12 603.67 242 599.8" fill="none" stroke="#a3195b" stroke-width="2.2"/>
<text x="59.6" y="677.3" font-size="10.2" text-anchor="middle" fill="#1a1a1a">&#8722;&#960;/2</text>
<text x="104.6" y="677.3" font-size="10.2" text-anchor="middle" fill="#1a1a1a">&#8722;&#960;/4</text>
<text x="152" y="677.3" font-size="10.2" text-anchor="middle" fill="#1a1a1a">0</text>
<text x="197.2" y="677.3" font-size="10.2" text-anchor="middle" fill="#1a1a1a">&#960;/4</text>
<text x="242.8" y="677.3" font-size="10.2" text-anchor="middle" fill="#1a1a1a">&#960;/2</text>
<text x="137" y="690.8" font-size="10.2" fill="#1a1a1a">&#981; (rad)</text>
<text transform="translate(10.8 530) rotate(-90)" font-size="11" text-anchor="middle" fill="#1a1a1a">PDF (&#981;)</text>
<g><rect x="56.2" y="399.9" width="26.8" height="9.2" rx="4.6" fill="#7fc8ee" opacity="0.85"/><rect x="56.95" y="400.6" width="25" height="8.5" rx="4.25" fill="#7fc8ee" opacity="0.85" transform="rotate(-43.6 69.45 404.85)"/><rect x="64.2" y="389.6" width="9.3" height="28" rx="4.65" fill="#0a97dc"/><circle cx="69.5" cy="404" r="15.6" fill="none" stroke="#000" stroke-width="1.2"/><path d="M69.5 388.4V378.5M73.5 404.5H93" stroke="#000" stroke-width="1.25"/><path d="M69.5 375.6L67 381.2L69.5 380L72 381.2Z" fill="#000"/><path d="M96 404.5L90.4 402L91.6 404.5L90.4 407Z" fill="#000"/></g>
<text x="69.7" y="372.2" font-size="10" text-anchor="middle" fill="#1a1a1a">0</text>
<text x="98" y="408" font-size="10" fill="#1a1a1a">&#960;/2</text>
<text transform="translate(82.4 373.4) rotate(90)" font-size="10" text-anchor="middle" fill="#1a1a1a">flow</text>
<rect x="254" y="383" width="76.5" height="77" fill="url(#halo)"/>
<rect x="254" y="383" width="76.5" height="77" fill="#fff" filter="url(#noise)" opacity="0.35"/>
<ellipse cx="291.3" cy="421.6" rx="12.4" ry="13.6" fill="url(#blob)" stroke="#fff" stroke-width="1.25" stroke-dasharray="3.6 1.8"/><rect x="310.8" y="452.4" width="15.8" height="2.8" fill="#fff"/>
<text x="257.3" y="396" font-size="10.5" fill="#fff">F</text>
<rect x="254.2" y="486.4" width="76.5" height="77" fill="url(#halo)"/>
<rect x="254.2" y="486.4" width="76.5" height="77" fill="#fff" filter="url(#noise)" opacity="0.35"/>
<ellipse cx="292.6" cy="526.1" rx="20.9" ry="7.5" fill="url(#blob)" stroke="#fff" stroke-width="1.25" stroke-dasharray="3.6 1.8"/><path d="M311 489.3V509.6M314.7 489.3V509.6M318.4 489.3V509.6M322.1 489.3V509.6M325.8 489.3V509.6" stroke="#ddd" stroke-width="1"/>
<rect x="254.2" y="587.5" width="76.5" height="77" fill="url(#halo)"/>
<rect x="254.2" y="587.5" width="76.5" height="77" fill="#fff" filter="url(#noise)" opacity="0.35"/>
<path d="M293.3 603.5C297.8 603.5 300.2 613 299.6 621.2C306 620.2 313.2 622 313.2 628C313.2 634 306 635.8 299.6 634.8C300.2 643 297.8 651.8 293.3 651.8C288.8 651.8 286.4 643 287 634.8C280.6 635.8 274 634 274 628C274 622 280.6 620.2 287 621.2C286.4 613 288.8 603.5 293.3 603.5Z" fill="url(#blob)" stroke="#fff" stroke-width="1.25" stroke-dasharray="3.6 1.8"/><path d="M310.7 589.5H327.9M310.7 593.7H327.9M310.7 597.9H327.9M310.7 602.1H327.9M310.7 606.3H327.9" stroke="#ddd" stroke-width="1"/>
<text x="256.6" y="497.5" font-family="Liberation Serif, serif" font-size="11.5" font-weight="bold" font-style="italic" fill="#eee">w</text>
<text x="264.19" y="500.83" font-family="Liberation Serif, serif" font-size="7.59" font-weight="bold" font-style="italic" fill="#eee">s</text>
<path d="M269.62 495.77V500.83M271.62 495.77V500.83" stroke="#bbb" stroke-width="0.8"/>
<text x="256.6" y="598.8" font-family="Liberation Serif, serif" font-size="11.5" font-weight="bold" font-style="italic" fill="#eee">w</text>
<text x="264.19" y="602.13" font-family="Liberation Serif, serif" font-size="7.59" font-weight="bold" font-style="italic" fill="#eee">s</text>
<path d="M271.42 597.28V602.74M269.22 602.74H273.62" stroke="#bbb" stroke-width="0.8"/>
<text x="383" y="359.2" font-size="13.5" font-weight="bold" fill="#000">d</text>
<rect x="389.6" y="369.2" width="60.4" height="296" fill="url(#yel)"/>
<rect x="450" y="369.2" width="228.3" height="296" fill="url(#sb)"/>
<path d="M389.6 369.2H678.1" fill="none" stroke="#9c9c9c" stroke-width="1.6"/>
<path d="M677.9 369.2V665.2" fill="none" stroke="#8f959c" stroke-width="1.5"/>
<path d="M389.6 369.2V665.2H678.3" fill="none" stroke="#444" stroke-width="1.15"/>
<path d="M389.6 395.5h3.5" stroke="#555" stroke-width="0.9"/>
<path d="M389.6 485.1h3.5" stroke="#555" stroke-width="0.9"/>
<path d="M389.6 575.2h3.5" stroke="#555" stroke-width="0.9"/>
<path d="M434.4 665.1v-3.5" stroke="#555" stroke-width="0.9"/>
<path d="M532.3 665.1v-3.5" stroke="#555" stroke-width="0.9"/>
<path d="M630.8 665.1v-3.5" stroke="#555" stroke-width="0.9"/>
<text x="383" y="399.2" font-size="10.5" text-anchor="end" fill="#1a1a1a">3</text>
<text x="383" y="488.8" font-size="10.5" text-anchor="end" fill="#1a1a1a">2</text>
<text x="383" y="578.9" font-size="10.5" text-anchor="end" fill="#1a1a1a">1</text>
<text x="383" y="668.9" font-size="10.5" text-anchor="end" fill="#1a1a1a">0</text>
<text x="434.4" y="680.1" font-size="10.5" text-anchor="middle" fill="#1a1a1a">1</text>
<text x="532.3" y="680.1" font-size="10.5" text-anchor="middle" fill="#1a1a1a">10</text>
<text x="630.8" y="680.1" font-size="10.5" text-anchor="middle" fill="#1a1a1a">100</text>
<text x="519.3" y="694.2" font-size="10.3" fill="#1a1a1a">&#947;</text>
<circle cx="521.78" cy="686.09" r="0.8" fill="#1a1a1a"/>
<text x="524.45" y="697.68" font-size="6.99" fill="#1a1a1a">F</text>
<text x="532.09" y="694" font-size="9.2" fill="#1a1a1a">(s</text>
<text x="540.46" y="690.32" font-size="5.89" fill="#1a1a1a">-1</text>
<text x="545.8" y="694" font-size="9.2" fill="#1a1a1a">)</text>
<text transform="translate(369.6 517.5) rotate(-90)" font-size="12" font-style="italic" text-anchor="middle" fill="#1a1a1a">S<tspan font-size="8.5" dy="2.5">c</tspan><tspan dy="-2.5"> (%)</tspan></text>
<text transform="translate(417.2 601.2) rotate(-90)" font-size="10.8" font-style="italic" text-anchor="middle" fill="#1a1a1a">Low-shear adhesion</text>
<path d="M389.6 521.3C394.67 520.67 409.53 519.38 420 517.5C430.47 515.62 443.23 512.42 452.4 510C461.57 507.58 468.17 505.67 475 503C481.83 500.33 487.57 498.8 493.4 494C499.23 489.2 505.23 480.7 510 474.2C514.77 467.7 517.7 461.02 522 455C526.3 448.98 531.47 443.1 535.8 438.1C540.13 433.1 543.62 428.67 548 425C552.38 421.33 555.1 418.43 562.1 416.1C569.1 413.77 580.18 412.58 590 411C599.82 409.42 611 408.02 621 406.6C631 405.18 640.45 403.92 650 402.5C659.55 401.08 673.58 398.83 678.3 398.1" fill="none" stroke="#9a9a9a" stroke-width="1.5"/>
<path d="M389.6 472.4C396.33 472.43 416.6 472.42 430 472.6C443.4 472.78 459.43 473.02 470 473.5C480.57 473.98 485.07 473.02 493.4 475.5C501.73 477.98 511.4 484.32 520 488.4C528.6 492.48 537.95 496.4 545 500C552.05 503.6 556.47 505.33 562.3 510C568.13 514.67 573.72 520.92 580 528C586.28 535.08 593.1 544.9 600 552.5C606.9 560.1 614.03 567.72 621.4 573.6C628.77 579.48 637.77 584.48 644.2 587.8C650.63 591.12 654.32 591.93 660 593.5C665.68 595.07 675.25 596.58 678.3 597.2" fill="none" stroke="#9a9a9a" stroke-width="1.5"/>
<path d="M389.6 443.3C394.67 447.08 409.93 457.88 420 466C430.07 474.12 441.92 484.67 450 492C458.08 499.33 461.27 504.42 468.5 510C475.73 515.58 484.82 519.83 493.4 525.5C501.98 531.17 508.6 536.3 520 544C531.4 551.7 550.13 564.7 561.8 571.7C573.47 578.7 580.07 581.28 590 586C599.93 590.72 611.4 595.67 621.4 600C631.4 604.33 640.52 608.22 650 612C659.48 615.78 673.58 620.92 678.3 622.7" fill="none" stroke="#9a9a9a" stroke-width="1.5"/>
<path d="M394.8 507.8V532.8M391.5 507.8H398.1M391.5 532.8H398.1" stroke="#56349a" stroke-width="1.3" fill="none"/>
<path d="M394.8 517.1l4 3.4l-4 3.4l-4 -3.4Z" fill="#56349a"/>
<path d="M394.8 460.5V485.3M391.5 460.5H398.1M391.5 485.3H398.1" stroke="#56349a" stroke-width="1.3" fill="none"/>
<ellipse cx="394.8" cy="472.9" rx="3.6" ry="3.1" fill="#56349a"/>
<path d="M394.8 438.9V460.5M391.5 438.9H398.1M391.5 460.5H398.1" stroke="#56349a" stroke-width="1.3" fill="none"/>
<rect x="391.1" y="446.9" width="7.4" height="6.6" fill="#56349a"/>
<path d="M493.4 487.1V505.2M490.1 487.1H496.7M490.1 505.2H496.7" stroke="#4a8fd4" stroke-width="1.3" fill="none"/>
<path d="M493.4 490.2l4 3.4l-4 3.4l-4 -3.4Z" fill="#4a8fd4"/>
<path d="M493.4 468.3V487.1M490.1 468.3H496.7M490.1 487.1H496.7" stroke="#4a8fd4" stroke-width="1.3" fill="none"/>
<ellipse cx="493.4" cy="478.1" rx="3.6" ry="3.1" fill="#4a8fd4"/>
<path d="M493.4 514V536M490.1 514H496.7M490.1 536H496.7" stroke="#4a8fd4" stroke-width="1.3" fill="none"/>
<rect x="489.7" y="522" width="7.4" height="6.6" fill="#4a8fd4"/>
<path d="M562.1 405.8V423.9M558.8 405.8H565.4M558.8 423.9H565.4" stroke="#14908f" stroke-width="1.3" fill="none"/>
<path d="M562.1 412l4 3.4l-4 3.4l-4 -3.4Z" fill="#14908f"/>
<path d="M562.1 501.3V518.6M558.8 501.3H565.4M558.8 518.6H565.4" stroke="#14908f" stroke-width="1.3" fill="none"/>
<ellipse cx="562.1" cy="509.9" rx="3.6" ry="3.1" fill="#14908f"/>
<path d="M562.1 563.7V580.3M558.8 563.7H565.4M558.8 580.3H565.4" stroke="#14908f" stroke-width="1.3" fill="none"/>
<rect x="558.4" y="568.4" width="7.4" height="6.6" fill="#14908f"/>
<path d="M621.3 396.8V414.3M618 396.8H624.6M618 414.3H624.6" stroke="#24327c" stroke-width="1.3" fill="none"/>
<path d="M621.3 402.4l4 3.4l-4 3.4l-4 -3.4Z" fill="#24327c"/>
<path d="M621.3 565.6V581.1M618 565.6H624.6M618 581.1H624.6" stroke="#24327c" stroke-width="1.3" fill="none"/>
<ellipse cx="621.3" cy="573.6" rx="3.6" ry="3.1" fill="#24327c"/>
<path d="M621.3 592.4V607.2M618 592.4H624.6M618 607.2H624.6" stroke="#24327c" stroke-width="1.3" fill="none"/>
<rect x="617.6" y="596.6" width="7.4" height="6.6" fill="#24327c"/>
<path d="M660.6 389.6V406.6M657.3 389.6H663.9M657.3 406.6H663.9" stroke="#e8392a" stroke-width="1.3" fill="none"/>
<path d="M660.6 394.7l4 3.4l-4 3.4l-4 -3.4Z" fill="#e8392a"/>
<path d="M660.6 585.1V600.4M657.3 585.1H663.9M657.3 600.4H663.9" stroke="#e8392a" stroke-width="1.3" fill="none"/>
<ellipse cx="660.6" cy="592.7" rx="3.6" ry="3.1" fill="#e8392a"/>
<path d="M660.6 611.4V625.9M657.3 611.4H663.9M657.3 625.9H663.9" stroke="#e8392a" stroke-width="1.3" fill="none"/>
<rect x="656.9" y="615.4" width="7.4" height="6.6" fill="#e8392a"/>
<path d="M651.5 376.6l3.3 3.3l-3.3 3.3l-3.3 -3.3Z" fill="#000"/>
<text x="658" y="384" font-size="10.5" fill="#000">F</text>
<circle cx="597.2" cy="540.1" r="3.3" fill="#000"/><rect x="637.6" y="537" width="6.2" height="6.2" fill="#000"/>
<text x="604.5" y="543.3" font-family="Liberation Serif, serif" font-size="12.5" font-weight="bold" font-style="italic" fill="#000">w</text>
<text x="612.75" y="546.92" font-family="Liberation Serif, serif" font-size="8.25" font-weight="bold" font-style="italic" fill="#000">s</text>
<path d="M618.6 541.42V546.92M620.6 541.42V546.92" stroke="#555" stroke-width="0.8"/>
<text x="648.6" y="543.3" font-family="Liberation Serif, serif" font-size="12.5" font-weight="bold" font-style="italic" fill="#000">w</text>
<text x="656.85" y="546.92" font-family="Liberation Serif, serif" font-size="8.25" font-weight="bold" font-style="italic" fill="#000">s</text>
<path d="M664.5 541.62V547.52M662.3 547.52H666.7" stroke="#555" stroke-width="0.8"/>
<path d="M592.5 422.4H661.2" stroke="#4a6fc8" stroke-width="1.2"/><path d="M590.5 422.4l5.5 -2.3l-1.5 2.3l1.5 2.3Z" fill="#4a6fc8"/>
<path d="M603 432.2H661.2" stroke="#4a6fc8" stroke-width="1.2"/><path d="M601 432.2l5.5 -2.3l-1.5 2.3l1.5 2.3Z" fill="#4a6fc8"/>
<path d="M612.6 442.1H661.2" stroke="#4a6fc8" stroke-width="1.2"/><path d="M610.6 442.1l5.5 -2.3l-1.5 2.3l1.5 2.3Z" fill="#4a6fc8"/>
<path d="M645.9 426.1C630 424.5 605 424 593.5 433.5" fill="none" stroke="#222" stroke-width="1.1"/><path d="M590.2 436.8L592 430.6L593.6 433.4L596.7 433.5Z" fill="#222"/>
<rect x="576.1" y="440" width="32.9" height="10.5" rx="5.2" fill="#5878a8"/>
<rect x="570.4" y="451" width="33.3" height="11.2" rx="5.6" fill="#0e9ad2"/>
<rect x="623.9" y="451" width="33.3" height="11.2" rx="5.6" fill="#0e9ad2"/>
<ellipse cx="610.1" cy="456.9" rx="4.3" ry="5.3" fill="#0e9ad2"/><ellipse cx="618.6" cy="453.7" rx="4" ry="4.8" fill="#0e9ad2"/>
<rect x="569.6" y="463.8" width="91.6" height="4.3" fill="#c9c9c9"/><rect x="569.6" y="462.3" width="91.6" height="1.6" fill="#f3a21f"/><rect x="575.3" y="462.6" width="78.7" height="3.2" fill="#e4412d"/>
<text x="539.7" y="479.2" font-size="10.8" font-style="italic" fill="#1a1a1a" letter-spacing="0.42">Shear-induced adhesion</text>
<path d="M465.8 592.4H552.2" stroke="#4a6fc8" stroke-width="1.2"/><path d="M463.8 592.4l5.5 -2.3l-1.5 2.3l1.5 2.3Z" fill="#4a6fc8"/>
<path d="M471 603.9H552.2" stroke="#4a6fc8" stroke-width="1.2"/><path d="M469 603.9l5.5 -2.3l-1.5 2.3l1.5 2.3Z" fill="#4a6fc8"/>
<path d="M482.4 613.9H552.2" stroke="#4a6fc8" stroke-width="1.2"/><path d="M480.4 613.9l5.5 -2.3l-1.5 2.3l1.5 2.3Z" fill="#4a6fc8"/>
<path d="M476.5 594.6L499 608" stroke="#7f95b3" stroke-width="8.8" stroke-linecap="round" opacity="0.8"/>
<path d="M526.8 616.5C520 605 510 598 497 596.8" fill="none" stroke="#222" stroke-width="1.1"/><path d="M493.8 596.4L499.3 593.5L498 596.8L499.6 599.6Z" fill="#222"/>
<path d="M461.1 640.58 L462.1 640.52 L463.1 640.1 L464.1 639.36 L465.1 638.34 L466.1 637.13 L467.1 635.84 L468.1 634.55 L469.1 633.39 L470.1 632.43 L471.1 631.76 L472.1 631.43 L473.1 631.47 L474.1 631.87 L475.1 632.6 L476.1 633.61 L477.1 634.8 L478.1 636.1 L479.1 637.38 L480.1 638.56 L481.1 639.53 L482.1 640.21 L483.1 640.56 L484.1 640.54 L485.1 640.16 L486.1 639.44 L487.1 638.45 L488.1 637.26 L489.1 635.97 L490.1 634.68 L491.1 633.5 L492.1 632.51 L493.1 631.81 L494.1 631.45 L495.1 631.45 L496.1 631.81 L497.1 632.51 L498.1 633.5 L499.1 634.68 L500.1 635.97 L501.1 637.26 L502.1 638.45 L503.1 639.44 L504.1 640.16 L505.1 640.54 L506.1 640.56 L507.1 640.21 L508.1 639.53 L509.1 638.56 L510.1 637.38 L511.1 636.1 L512.1 634.8 L513.1 633.61 L514.1 632.6 L515.1 631.87 L516.1 631.47 L517.1 631.43 L518.1 631.76 L519.1 632.43 L520.1 633.39 L521.1 634.55 L522.1 635.84 L523.1 637.13 L524.1 638.34 L525.1 639.36 L526.1 640.1 L527.1 640.52 L528.1 640.58 L529.1 640.27 L530.1 639.61 L531.1 638.67 L532.1 637.51 L533.1 636.23 L534.1 634.93 L535.1 633.72 L536.1 632.69 L537.1 631.93 L538.1 631.49 L539.1 631.42 L540.1 631.71 L541.1 632.35 L542.1 633.28 L543.1 634.43 L544.1 635.71 L545.1 637.01 L546.1 638.22 L547.1 639.26 L548.1 640.04 L549.1 640.5 L550.1 640.59 L551.1 640.31 L552.1 639.69 L553.1 638.77 L554.1 637.63 L555.1 636.36 L556.1 635.06 L557.1 633.83 L558.1 632.78 L559.1 631.99 L560.1 631.52 L561.1 631.41 L562.1 631.67 L563.1 632.27 L564.1 633.18 L565.1 634.31 L566.1 635.58 L567.1 636.88 L568.1 638.11 L569.1 639.17 L570.1 639.98 L571.1 640.47 L571.5 641 H461.1Z" fill="#cfcfcf"/>
<rect x="477.8" y="635.5" width="11.4" height="5.5" fill="#ec8a80"/><rect x="513.7" y="632.7" width="6.1" height="5" fill="#ec8a80"/><rect x="535.6" y="632.7" width="6.1" height="5" fill="#ec8a80"/>
<path d="M461.1 640.58 L462.1 640.52 L463.1 640.1 L464.1 639.36 L465.1 638.34 L466.1 637.13 L467.1 635.84 L468.1 634.55 L469.1 633.39 L470.1 632.43 L471.1 631.76 L472.1 631.43 L473.1 631.47 L474.1 631.87 L475.1 632.6 L476.1 633.61 L477.1 634.8 L478.1 636.1 L479.1 637.38 L480.1 638.56 L481.1 639.53 L482.1 640.21 L483.1 640.56 L484.1 640.54 L485.1 640.16 L486.1 639.44 L487.1 638.45 L488.1 637.26 L489.1 635.97 L490.1 634.68 L491.1 633.5 L492.1 632.51 L493.1 631.81 L494.1 631.45 L495.1 631.45 L496.1 631.81 L497.1 632.51 L498.1 633.5 L499.1 634.68 L500.1 635.97 L501.1 637.26 L502.1 638.45 L503.1 639.44 L504.1 640.16 L505.1 640.54 L506.1 640.56 L507.1 640.21 L508.1 639.53 L509.1 638.56 L510.1 637.38 L511.1 636.1 L512.1 634.8 L513.1 633.61 L514.1 632.6 L515.1 631.87 L516.1 631.47 L517.1 631.43 L518.1 631.76 L519.1 632.43 L520.1 633.39 L521.1 634.55 L522.1 635.84 L523.1 637.13 L524.1 638.34 L525.1 639.36 L526.1 640.1 L527.1 640.52 L528.1 640.58 L529.1 640.27 L530.1 639.61 L531.1 638.67 L532.1 637.51 L533.1 636.23 L534.1 634.93 L535.1 633.72 L536.1 632.69 L537.1 631.93 L538.1 631.49 L539.1 631.42 L540.1 631.71 L541.1 632.35 L542.1 633.28 L543.1 634.43 L544.1 635.71 L545.1 637.01 L546.1 638.22 L547.1 639.26 L548.1 640.04 L549.1 640.5 L550.1 640.59 L551.1 640.31 L552.1 639.69 L553.1 638.77 L554.1 637.63 L555.1 636.36 L556.1 635.06 L557.1 633.83 L558.1 632.78 L559.1 631.99 L560.1 631.52 L561.1 631.41 L562.1 631.67 L563.1 632.27 L564.1 633.18 L565.1 634.31 L566.1 635.58 L567.1 636.88 L568.1 638.11 L569.1 639.17 L570.1 639.98 L571.1 640.47" fill="none" stroke="#f39c1c" stroke-width="1.5"/>
<circle cx="483.4" cy="634.1" r="5.4" fill="#0e9ad2"/>
<rect x="509.3" y="621.8" width="37.2" height="10.9" rx="5.4" fill="#0e9ad2"/>
<text x="461.8" y="653.8" font-size="10.8" font-style="italic" fill="#1a1a1a" letter-spacing="0.38">Shear-decreased adhesion</text>
</svg></div></body></html>
